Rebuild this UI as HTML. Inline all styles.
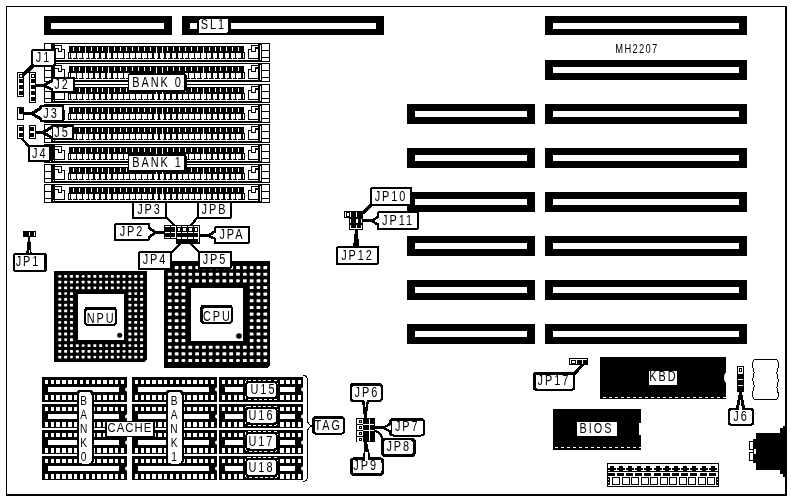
<!DOCTYPE html>
<html lang="en">
<head>
<meta charset="utf-8">
<title>MH2207 motherboard layout</title>
<style>
html,body{margin:0;padding:0;background:#fff;}
body{width:791px;height:501px;overflow:hidden;}
svg{display:block;font-family:"Liberation Sans",sans-serif;filter:grayscale(1);}
svg rect, svg path, svg line{shape-rendering:crispEdges;}
svg rect.d{shape-rendering:auto;}
</style>
</head>
<body>
<svg width="791" height="501" viewBox="0 0 791 501">
<rect x="0" y="0" width="791" height="501" fill="#fff"/>
<rect x="6" y="6" width="781" height="1" fill="#000"/>
<rect x="6" y="6" width="1" height="489" fill="#000"/>
<rect x="785" y="6" width="2" height="489" fill="#000"/>
<rect x="6" y="494" width="781" height="2" fill="#000"/>
<rect x="44" y="16" width="128" height="19" fill="#000"/>
<rect x="51" y="23" width="113" height="6" fill="#fff"/>
<rect x="182" y="16" width="202" height="19" fill="#000"/>
<rect x="190" y="23" width="186" height="6" fill="#fff"/>
<rect x="545" y="16" width="202" height="19" fill="#000"/>
<rect x="553" y="23" width="186" height="6" fill="#fff"/>
<rect x="545" y="60" width="202" height="20" fill="#000"/>
<rect x="553" y="67" width="186" height="6" fill="#fff"/>
<rect x="545" y="104" width="202" height="20" fill="#000"/>
<rect x="553" y="111" width="186" height="6" fill="#fff"/>
<rect x="545" y="148" width="202" height="20" fill="#000"/>
<rect x="553" y="155" width="186" height="6" fill="#fff"/>
<rect x="545" y="192" width="202" height="20" fill="#000"/>
<rect x="553" y="199" width="186" height="6" fill="#fff"/>
<rect x="545" y="236" width="202" height="20" fill="#000"/>
<rect x="553" y="243" width="186" height="6" fill="#fff"/>
<rect x="545" y="280" width="202" height="20" fill="#000"/>
<rect x="553" y="287" width="186" height="6" fill="#fff"/>
<rect x="545" y="324" width="202" height="20" fill="#000"/>
<rect x="553" y="331" width="186" height="6" fill="#fff"/>
<rect x="407" y="104" width="128" height="20" fill="#000"/>
<rect x="415" y="111" width="112" height="6" fill="#fff"/>
<rect x="407" y="148" width="128" height="20" fill="#000"/>
<rect x="415" y="155" width="112" height="6" fill="#fff"/>
<rect x="407" y="192" width="128" height="20" fill="#000"/>
<rect x="415" y="199" width="112" height="6" fill="#fff"/>
<rect x="407" y="236" width="128" height="20" fill="#000"/>
<rect x="415" y="243" width="112" height="6" fill="#fff"/>
<rect x="407" y="280" width="128" height="20" fill="#000"/>
<rect x="415" y="287" width="112" height="6" fill="#fff"/>
<rect x="407" y="324" width="128" height="20" fill="#000"/>
<rect x="415" y="331" width="112" height="6" fill="#fff"/>
<rect x="44" y="43" width="226" height="19" fill="#000"/>
<rect x="45" y="44" width="224" height="17" fill="#fff"/>
<rect x="54" y="60" width="208" height="1" fill="#000"/>
<rect x="44" y="50" width="8" height="1" fill="#000"/>
<rect x="44" y="57" width="8" height="1" fill="#000"/>
<rect x="51" y="43" width="4" height="19" fill="#000"/>
<rect x="53" y="59" width="1" height="1" fill="#fff"/>
<path d="M54.5,45.5H61.5V49.5H64.5V58.5H54.5" fill="#fff" stroke="#000" stroke-width="1"/>
<path d="M54.5,48.5H58.5V51.5H61.5V49.5" fill="none" stroke="#000" stroke-width="1"/>
<path d="M258.5,45.5H251.5V49.5H248.5V58.5H258.5" fill="#fff" stroke="#000" stroke-width="1"/>
<path d="M258.5,48.5H255.5V51.5H251.5V49.5" fill="none" stroke="#000" stroke-width="1"/>
<rect x="255" y="47" width="3" height="2" fill="#000"/>
<rect x="258" y="43" width="4" height="18" fill="#000"/>
<rect x="260" y="45" width="1" height="15" fill="#fff"/>
<rect x="262" y="50" width="8" height="1" fill="#000"/>
<rect x="262" y="57" width="8" height="1" fill="#000"/>
<rect x="69" y="46" width="175" height="6" fill="#000"/>
<rect x="68" y="52" width="177" height="7" fill="#000"/>
<rect x="69" y="53" width="1" height="5" fill="#fff"/>
<rect x="243" y="53" width="1" height="5" fill="#fff"/>
<rect x="71" y="53" width="5" height="5" fill="#fff"/>
<rect x="73" y="47" width="1" height="4" fill="#fff"/>
<rect x="72" y="58" width="1" height="0.5" fill="#fff"/>
<rect x="77" y="53" width="5" height="5" fill="#fff"/>
<rect x="79" y="47" width="1" height="4" fill="#fff"/>
<rect x="78" y="58" width="1" height="0.5" fill="#fff"/>
<rect x="83" y="53" width="5" height="5" fill="#fff"/>
<rect x="85" y="47" width="1" height="13" fill="#fff"/>
<rect x="84" y="58" width="1" height="0.5" fill="#fff"/>
<rect x="89" y="53" width="4" height="5" fill="#fff"/>
<rect x="91" y="47" width="1" height="4" fill="#fff"/>
<rect x="90" y="58" width="1" height="0.5" fill="#fff"/>
<rect x="95" y="53" width="4" height="5" fill="#fff"/>
<rect x="97" y="47" width="1" height="4" fill="#fff"/>
<rect x="96" y="58" width="1" height="0.5" fill="#fff"/>
<rect x="101" y="53" width="4" height="5" fill="#fff"/>
<rect x="102" y="47" width="1" height="4" fill="#fff"/>
<rect x="102" y="58" width="1" height="0.5" fill="#fff"/>
<rect x="107" y="53" width="4" height="5" fill="#fff"/>
<rect x="108" y="47" width="1" height="13" fill="#fff"/>
<rect x="108" y="58" width="1" height="0.5" fill="#fff"/>
<rect x="113" y="53" width="4" height="5" fill="#fff"/>
<rect x="114" y="47" width="1" height="4" fill="#fff"/>
<rect x="114" y="58" width="1" height="0.5" fill="#fff"/>
<rect x="118" y="53" width="5" height="5" fill="#fff"/>
<rect x="120" y="47" width="1" height="4" fill="#fff"/>
<rect x="119" y="58" width="1" height="0.5" fill="#fff"/>
<rect x="124" y="53" width="5" height="5" fill="#fff"/>
<rect x="126" y="47" width="1" height="4" fill="#fff"/>
<rect x="125" y="58" width="1" height="0.5" fill="#fff"/>
<rect x="130" y="53" width="5" height="5" fill="#fff"/>
<rect x="132" y="47" width="1" height="4" fill="#fff"/>
<rect x="131" y="58" width="1" height="0.5" fill="#fff"/>
<rect x="136" y="53" width="5" height="5" fill="#fff"/>
<rect x="138" y="47" width="1" height="4" fill="#fff"/>
<rect x="137" y="58" width="1" height="0.5" fill="#fff"/>
<rect x="142" y="53" width="5" height="5" fill="#fff"/>
<rect x="144" y="47" width="1" height="4" fill="#fff"/>
<rect x="143" y="58" width="1" height="0.5" fill="#fff"/>
<rect x="148" y="53" width="4" height="5" fill="#fff"/>
<rect x="150" y="47" width="1" height="4" fill="#fff"/>
<rect x="149" y="58" width="1" height="0.5" fill="#fff"/>
<rect x="154" y="53" width="4" height="5" fill="#fff"/>
<rect x="156" y="47" width="1" height="13" fill="#fff"/>
<rect x="155" y="58" width="1" height="0.5" fill="#fff"/>
<rect x="160" y="53" width="4" height="5" fill="#fff"/>
<rect x="162" y="47" width="1" height="13" fill="#fff"/>
<rect x="161" y="58" width="1" height="0.5" fill="#fff"/>
<rect x="166" y="53" width="4" height="5" fill="#fff"/>
<rect x="167" y="47" width="1" height="4" fill="#fff"/>
<rect x="167" y="58" width="1" height="0.5" fill="#fff"/>
<rect x="172" y="53" width="4" height="5" fill="#fff"/>
<rect x="173" y="47" width="1" height="4" fill="#fff"/>
<rect x="173" y="58" width="1" height="0.5" fill="#fff"/>
<rect x="178" y="53" width="4" height="5" fill="#fff"/>
<rect x="179" y="47" width="1" height="4" fill="#fff"/>
<rect x="179" y="58" width="1" height="0.5" fill="#fff"/>
<rect x="183" y="53" width="5" height="5" fill="#fff"/>
<rect x="185" y="47" width="1" height="4" fill="#fff"/>
<rect x="184" y="58" width="1" height="0.5" fill="#fff"/>
<rect x="189" y="53" width="5" height="5" fill="#fff"/>
<rect x="191" y="47" width="1" height="4" fill="#fff"/>
<rect x="190" y="58" width="1" height="0.5" fill="#fff"/>
<rect x="195" y="53" width="5" height="5" fill="#fff"/>
<rect x="197" y="47" width="1" height="4" fill="#fff"/>
<rect x="196" y="58" width="1" height="0.5" fill="#fff"/>
<rect x="201" y="53" width="5" height="5" fill="#fff"/>
<rect x="203" y="47" width="1" height="13" fill="#fff"/>
<rect x="202" y="58" width="1" height="0.5" fill="#fff"/>
<rect x="207" y="53" width="4" height="5" fill="#fff"/>
<rect x="209" y="47" width="1" height="4" fill="#fff"/>
<rect x="208" y="58" width="1" height="0.5" fill="#fff"/>
<rect x="213" y="53" width="4" height="5" fill="#fff"/>
<rect x="215" y="47" width="1" height="4" fill="#fff"/>
<rect x="214" y="58" width="1" height="0.5" fill="#fff"/>
<rect x="219" y="53" width="4" height="5" fill="#fff"/>
<rect x="220" y="47" width="1" height="4" fill="#fff"/>
<rect x="220" y="58" width="1" height="0.5" fill="#fff"/>
<rect x="225" y="53" width="4" height="5" fill="#fff"/>
<rect x="226" y="47" width="1" height="4" fill="#fff"/>
<rect x="226" y="58" width="1" height="0.5" fill="#fff"/>
<rect x="231" y="53" width="4" height="5" fill="#fff"/>
<rect x="232" y="47" width="1" height="4" fill="#fff"/>
<rect x="232" y="58" width="1" height="0.5" fill="#fff"/>
<rect x="236" y="53" width="5" height="5" fill="#fff"/>
<rect x="238" y="47" width="1" height="4" fill="#fff"/>
<rect x="237" y="58" width="1" height="0.5" fill="#fff"/>
<rect x="44" y="63" width="226" height="19" fill="#000"/>
<rect x="45" y="64" width="224" height="17" fill="#fff"/>
<rect x="54" y="80" width="208" height="1" fill="#000"/>
<rect x="44" y="70" width="8" height="1" fill="#000"/>
<rect x="44" y="77" width="8" height="1" fill="#000"/>
<rect x="51" y="63" width="4" height="19" fill="#000"/>
<rect x="53" y="79" width="1" height="1" fill="#fff"/>
<path d="M54.5,65.5H61.5V69.5H64.5V78.5H54.5" fill="#fff" stroke="#000" stroke-width="1"/>
<path d="M54.5,68.5H58.5V71.5H61.5V69.5" fill="none" stroke="#000" stroke-width="1"/>
<path d="M258.5,65.5H251.5V69.5H248.5V78.5H258.5" fill="#fff" stroke="#000" stroke-width="1"/>
<path d="M258.5,68.5H255.5V71.5H251.5V69.5" fill="none" stroke="#000" stroke-width="1"/>
<rect x="255" y="67" width="3" height="2" fill="#000"/>
<rect x="258" y="63" width="4" height="18" fill="#000"/>
<rect x="260" y="65" width="1" height="15" fill="#fff"/>
<rect x="262" y="70" width="8" height="1" fill="#000"/>
<rect x="262" y="77" width="8" height="1" fill="#000"/>
<rect x="69" y="66" width="175" height="6" fill="#000"/>
<rect x="68" y="72" width="177" height="7" fill="#000"/>
<rect x="69" y="73" width="1" height="5" fill="#fff"/>
<rect x="243" y="73" width="1" height="5" fill="#fff"/>
<rect x="71" y="73" width="5" height="5" fill="#fff"/>
<rect x="73" y="67" width="1" height="4" fill="#fff"/>
<rect x="72" y="78" width="1" height="0.5" fill="#fff"/>
<rect x="77" y="73" width="5" height="5" fill="#fff"/>
<rect x="79" y="67" width="1" height="4" fill="#fff"/>
<rect x="78" y="78" width="1" height="0.5" fill="#fff"/>
<rect x="83" y="73" width="5" height="5" fill="#fff"/>
<rect x="85" y="67" width="1" height="13" fill="#fff"/>
<rect x="84" y="78" width="1" height="0.5" fill="#fff"/>
<rect x="89" y="73" width="4" height="5" fill="#fff"/>
<rect x="91" y="67" width="1" height="4" fill="#fff"/>
<rect x="90" y="78" width="1" height="0.5" fill="#fff"/>
<rect x="95" y="73" width="4" height="5" fill="#fff"/>
<rect x="97" y="67" width="1" height="4" fill="#fff"/>
<rect x="96" y="78" width="1" height="0.5" fill="#fff"/>
<rect x="101" y="73" width="4" height="5" fill="#fff"/>
<rect x="102" y="67" width="1" height="4" fill="#fff"/>
<rect x="102" y="78" width="1" height="0.5" fill="#fff"/>
<rect x="107" y="73" width="4" height="5" fill="#fff"/>
<rect x="108" y="67" width="1" height="13" fill="#fff"/>
<rect x="108" y="78" width="1" height="0.5" fill="#fff"/>
<rect x="113" y="73" width="4" height="5" fill="#fff"/>
<rect x="114" y="67" width="1" height="4" fill="#fff"/>
<rect x="114" y="78" width="1" height="0.5" fill="#fff"/>
<rect x="118" y="73" width="5" height="5" fill="#fff"/>
<rect x="120" y="67" width="1" height="4" fill="#fff"/>
<rect x="119" y="78" width="1" height="0.5" fill="#fff"/>
<rect x="124" y="73" width="5" height="5" fill="#fff"/>
<rect x="126" y="67" width="1" height="4" fill="#fff"/>
<rect x="125" y="78" width="1" height="0.5" fill="#fff"/>
<rect x="130" y="73" width="5" height="5" fill="#fff"/>
<rect x="132" y="67" width="1" height="4" fill="#fff"/>
<rect x="131" y="78" width="1" height="0.5" fill="#fff"/>
<rect x="136" y="73" width="5" height="5" fill="#fff"/>
<rect x="138" y="67" width="1" height="4" fill="#fff"/>
<rect x="137" y="78" width="1" height="0.5" fill="#fff"/>
<rect x="142" y="73" width="5" height="5" fill="#fff"/>
<rect x="144" y="67" width="1" height="4" fill="#fff"/>
<rect x="143" y="78" width="1" height="0.5" fill="#fff"/>
<rect x="148" y="73" width="4" height="5" fill="#fff"/>
<rect x="150" y="67" width="1" height="4" fill="#fff"/>
<rect x="149" y="78" width="1" height="0.5" fill="#fff"/>
<rect x="154" y="73" width="4" height="5" fill="#fff"/>
<rect x="156" y="67" width="1" height="13" fill="#fff"/>
<rect x="155" y="78" width="1" height="0.5" fill="#fff"/>
<rect x="160" y="73" width="4" height="5" fill="#fff"/>
<rect x="162" y="67" width="1" height="13" fill="#fff"/>
<rect x="161" y="78" width="1" height="0.5" fill="#fff"/>
<rect x="166" y="73" width="4" height="5" fill="#fff"/>
<rect x="167" y="67" width="1" height="4" fill="#fff"/>
<rect x="167" y="78" width="1" height="0.5" fill="#fff"/>
<rect x="172" y="73" width="4" height="5" fill="#fff"/>
<rect x="173" y="67" width="1" height="4" fill="#fff"/>
<rect x="173" y="78" width="1" height="0.5" fill="#fff"/>
<rect x="178" y="73" width="4" height="5" fill="#fff"/>
<rect x="179" y="67" width="1" height="4" fill="#fff"/>
<rect x="179" y="78" width="1" height="0.5" fill="#fff"/>
<rect x="183" y="73" width="5" height="5" fill="#fff"/>
<rect x="185" y="67" width="1" height="4" fill="#fff"/>
<rect x="184" y="78" width="1" height="0.5" fill="#fff"/>
<rect x="189" y="73" width="5" height="5" fill="#fff"/>
<rect x="191" y="67" width="1" height="4" fill="#fff"/>
<rect x="190" y="78" width="1" height="0.5" fill="#fff"/>
<rect x="195" y="73" width="5" height="5" fill="#fff"/>
<rect x="197" y="67" width="1" height="4" fill="#fff"/>
<rect x="196" y="78" width="1" height="0.5" fill="#fff"/>
<rect x="201" y="73" width="5" height="5" fill="#fff"/>
<rect x="203" y="67" width="1" height="13" fill="#fff"/>
<rect x="202" y="78" width="1" height="0.5" fill="#fff"/>
<rect x="207" y="73" width="4" height="5" fill="#fff"/>
<rect x="209" y="67" width="1" height="4" fill="#fff"/>
<rect x="208" y="78" width="1" height="0.5" fill="#fff"/>
<rect x="213" y="73" width="4" height="5" fill="#fff"/>
<rect x="215" y="67" width="1" height="4" fill="#fff"/>
<rect x="214" y="78" width="1" height="0.5" fill="#fff"/>
<rect x="219" y="73" width="4" height="5" fill="#fff"/>
<rect x="220" y="67" width="1" height="4" fill="#fff"/>
<rect x="220" y="78" width="1" height="0.5" fill="#fff"/>
<rect x="225" y="73" width="4" height="5" fill="#fff"/>
<rect x="226" y="67" width="1" height="4" fill="#fff"/>
<rect x="226" y="78" width="1" height="0.5" fill="#fff"/>
<rect x="231" y="73" width="4" height="5" fill="#fff"/>
<rect x="232" y="67" width="1" height="4" fill="#fff"/>
<rect x="232" y="78" width="1" height="0.5" fill="#fff"/>
<rect x="236" y="73" width="5" height="5" fill="#fff"/>
<rect x="238" y="67" width="1" height="4" fill="#fff"/>
<rect x="237" y="78" width="1" height="0.5" fill="#fff"/>
<rect x="44" y="84" width="226" height="19" fill="#000"/>
<rect x="45" y="85" width="224" height="17" fill="#fff"/>
<rect x="54" y="101" width="208" height="1" fill="#000"/>
<rect x="44" y="91" width="8" height="1" fill="#000"/>
<rect x="44" y="98" width="8" height="1" fill="#000"/>
<rect x="51" y="84" width="4" height="19" fill="#000"/>
<rect x="53" y="100" width="1" height="1" fill="#fff"/>
<path d="M54.5,86.5H61.5V90.5H64.5V99.5H54.5" fill="#fff" stroke="#000" stroke-width="1"/>
<path d="M54.5,89.5H58.5V92.5H61.5V90.5" fill="none" stroke="#000" stroke-width="1"/>
<path d="M258.5,86.5H251.5V90.5H248.5V99.5H258.5" fill="#fff" stroke="#000" stroke-width="1"/>
<path d="M258.5,89.5H255.5V92.5H251.5V90.5" fill="none" stroke="#000" stroke-width="1"/>
<rect x="255" y="88" width="3" height="2" fill="#000"/>
<rect x="258" y="84" width="4" height="18" fill="#000"/>
<rect x="260" y="86" width="1" height="15" fill="#fff"/>
<rect x="262" y="91" width="8" height="1" fill="#000"/>
<rect x="262" y="98" width="8" height="1" fill="#000"/>
<rect x="69" y="87" width="175" height="6" fill="#000"/>
<rect x="68" y="93" width="177" height="7" fill="#000"/>
<rect x="69" y="94" width="1" height="5" fill="#fff"/>
<rect x="243" y="94" width="1" height="5" fill="#fff"/>
<rect x="71" y="94" width="5" height="5" fill="#fff"/>
<rect x="73" y="88" width="1" height="4" fill="#fff"/>
<rect x="72" y="99" width="1" height="0.5" fill="#fff"/>
<rect x="77" y="94" width="5" height="5" fill="#fff"/>
<rect x="79" y="88" width="1" height="4" fill="#fff"/>
<rect x="78" y="99" width="1" height="0.5" fill="#fff"/>
<rect x="83" y="94" width="5" height="5" fill="#fff"/>
<rect x="85" y="88" width="1" height="13" fill="#fff"/>
<rect x="84" y="99" width="1" height="0.5" fill="#fff"/>
<rect x="89" y="94" width="4" height="5" fill="#fff"/>
<rect x="91" y="88" width="1" height="4" fill="#fff"/>
<rect x="90" y="99" width="1" height="0.5" fill="#fff"/>
<rect x="95" y="94" width="4" height="5" fill="#fff"/>
<rect x="97" y="88" width="1" height="4" fill="#fff"/>
<rect x="96" y="99" width="1" height="0.5" fill="#fff"/>
<rect x="101" y="94" width="4" height="5" fill="#fff"/>
<rect x="102" y="88" width="1" height="4" fill="#fff"/>
<rect x="102" y="99" width="1" height="0.5" fill="#fff"/>
<rect x="107" y="94" width="4" height="5" fill="#fff"/>
<rect x="108" y="88" width="1" height="13" fill="#fff"/>
<rect x="108" y="99" width="1" height="0.5" fill="#fff"/>
<rect x="113" y="94" width="4" height="5" fill="#fff"/>
<rect x="114" y="88" width="1" height="4" fill="#fff"/>
<rect x="114" y="99" width="1" height="0.5" fill="#fff"/>
<rect x="118" y="94" width="5" height="5" fill="#fff"/>
<rect x="120" y="88" width="1" height="4" fill="#fff"/>
<rect x="119" y="99" width="1" height="0.5" fill="#fff"/>
<rect x="124" y="94" width="5" height="5" fill="#fff"/>
<rect x="126" y="88" width="1" height="4" fill="#fff"/>
<rect x="125" y="99" width="1" height="0.5" fill="#fff"/>
<rect x="130" y="94" width="5" height="5" fill="#fff"/>
<rect x="132" y="88" width="1" height="4" fill="#fff"/>
<rect x="131" y="99" width="1" height="0.5" fill="#fff"/>
<rect x="136" y="94" width="5" height="5" fill="#fff"/>
<rect x="138" y="88" width="1" height="4" fill="#fff"/>
<rect x="137" y="99" width="1" height="0.5" fill="#fff"/>
<rect x="142" y="94" width="5" height="5" fill="#fff"/>
<rect x="144" y="88" width="1" height="4" fill="#fff"/>
<rect x="143" y="99" width="1" height="0.5" fill="#fff"/>
<rect x="148" y="94" width="4" height="5" fill="#fff"/>
<rect x="150" y="88" width="1" height="4" fill="#fff"/>
<rect x="149" y="99" width="1" height="0.5" fill="#fff"/>
<rect x="154" y="94" width="4" height="5" fill="#fff"/>
<rect x="156" y="88" width="1" height="13" fill="#fff"/>
<rect x="155" y="99" width="1" height="0.5" fill="#fff"/>
<rect x="160" y="94" width="4" height="5" fill="#fff"/>
<rect x="162" y="88" width="1" height="13" fill="#fff"/>
<rect x="161" y="99" width="1" height="0.5" fill="#fff"/>
<rect x="166" y="94" width="4" height="5" fill="#fff"/>
<rect x="167" y="88" width="1" height="4" fill="#fff"/>
<rect x="167" y="99" width="1" height="0.5" fill="#fff"/>
<rect x="172" y="94" width="4" height="5" fill="#fff"/>
<rect x="173" y="88" width="1" height="4" fill="#fff"/>
<rect x="173" y="99" width="1" height="0.5" fill="#fff"/>
<rect x="178" y="94" width="4" height="5" fill="#fff"/>
<rect x="179" y="88" width="1" height="4" fill="#fff"/>
<rect x="179" y="99" width="1" height="0.5" fill="#fff"/>
<rect x="183" y="94" width="5" height="5" fill="#fff"/>
<rect x="185" y="88" width="1" height="4" fill="#fff"/>
<rect x="184" y="99" width="1" height="0.5" fill="#fff"/>
<rect x="189" y="94" width="5" height="5" fill="#fff"/>
<rect x="191" y="88" width="1" height="4" fill="#fff"/>
<rect x="190" y="99" width="1" height="0.5" fill="#fff"/>
<rect x="195" y="94" width="5" height="5" fill="#fff"/>
<rect x="197" y="88" width="1" height="4" fill="#fff"/>
<rect x="196" y="99" width="1" height="0.5" fill="#fff"/>
<rect x="201" y="94" width="5" height="5" fill="#fff"/>
<rect x="203" y="88" width="1" height="13" fill="#fff"/>
<rect x="202" y="99" width="1" height="0.5" fill="#fff"/>
<rect x="207" y="94" width="4" height="5" fill="#fff"/>
<rect x="209" y="88" width="1" height="4" fill="#fff"/>
<rect x="208" y="99" width="1" height="0.5" fill="#fff"/>
<rect x="213" y="94" width="4" height="5" fill="#fff"/>
<rect x="215" y="88" width="1" height="4" fill="#fff"/>
<rect x="214" y="99" width="1" height="0.5" fill="#fff"/>
<rect x="219" y="94" width="4" height="5" fill="#fff"/>
<rect x="220" y="88" width="1" height="4" fill="#fff"/>
<rect x="220" y="99" width="1" height="0.5" fill="#fff"/>
<rect x="225" y="94" width="4" height="5" fill="#fff"/>
<rect x="226" y="88" width="1" height="4" fill="#fff"/>
<rect x="226" y="99" width="1" height="0.5" fill="#fff"/>
<rect x="231" y="94" width="4" height="5" fill="#fff"/>
<rect x="232" y="88" width="1" height="4" fill="#fff"/>
<rect x="232" y="99" width="1" height="0.5" fill="#fff"/>
<rect x="236" y="94" width="5" height="5" fill="#fff"/>
<rect x="238" y="88" width="1" height="4" fill="#fff"/>
<rect x="237" y="99" width="1" height="0.5" fill="#fff"/>
<rect x="44" y="104" width="226" height="19" fill="#000"/>
<rect x="45" y="105" width="224" height="17" fill="#fff"/>
<rect x="54" y="121" width="208" height="1" fill="#000"/>
<rect x="44" y="111" width="8" height="1" fill="#000"/>
<rect x="44" y="118" width="8" height="1" fill="#000"/>
<rect x="51" y="104" width="4" height="19" fill="#000"/>
<rect x="53" y="120" width="1" height="1" fill="#fff"/>
<path d="M54.5,106.5H61.5V110.5H64.5V119.5H54.5" fill="#fff" stroke="#000" stroke-width="1"/>
<path d="M54.5,109.5H58.5V112.5H61.5V110.5" fill="none" stroke="#000" stroke-width="1"/>
<path d="M258.5,106.5H251.5V110.5H248.5V119.5H258.5" fill="#fff" stroke="#000" stroke-width="1"/>
<path d="M258.5,109.5H255.5V112.5H251.5V110.5" fill="none" stroke="#000" stroke-width="1"/>
<rect x="255" y="108" width="3" height="2" fill="#000"/>
<rect x="258" y="104" width="4" height="18" fill="#000"/>
<rect x="260" y="106" width="1" height="15" fill="#fff"/>
<rect x="262" y="111" width="8" height="1" fill="#000"/>
<rect x="262" y="118" width="8" height="1" fill="#000"/>
<rect x="69" y="107" width="175" height="6" fill="#000"/>
<rect x="68" y="113" width="177" height="7" fill="#000"/>
<rect x="69" y="114" width="1" height="5" fill="#fff"/>
<rect x="243" y="114" width="1" height="5" fill="#fff"/>
<rect x="71" y="114" width="5" height="5" fill="#fff"/>
<rect x="73" y="108" width="1" height="4" fill="#fff"/>
<rect x="72" y="119" width="1" height="0.5" fill="#fff"/>
<rect x="77" y="114" width="5" height="5" fill="#fff"/>
<rect x="79" y="108" width="1" height="4" fill="#fff"/>
<rect x="78" y="119" width="1" height="0.5" fill="#fff"/>
<rect x="83" y="114" width="5" height="5" fill="#fff"/>
<rect x="85" y="108" width="1" height="13" fill="#fff"/>
<rect x="84" y="119" width="1" height="0.5" fill="#fff"/>
<rect x="89" y="114" width="4" height="5" fill="#fff"/>
<rect x="91" y="108" width="1" height="4" fill="#fff"/>
<rect x="90" y="119" width="1" height="0.5" fill="#fff"/>
<rect x="95" y="114" width="4" height="5" fill="#fff"/>
<rect x="97" y="108" width="1" height="4" fill="#fff"/>
<rect x="96" y="119" width="1" height="0.5" fill="#fff"/>
<rect x="101" y="114" width="4" height="5" fill="#fff"/>
<rect x="102" y="108" width="1" height="4" fill="#fff"/>
<rect x="102" y="119" width="1" height="0.5" fill="#fff"/>
<rect x="107" y="114" width="4" height="5" fill="#fff"/>
<rect x="108" y="108" width="1" height="13" fill="#fff"/>
<rect x="108" y="119" width="1" height="0.5" fill="#fff"/>
<rect x="113" y="114" width="4" height="5" fill="#fff"/>
<rect x="114" y="108" width="1" height="4" fill="#fff"/>
<rect x="114" y="119" width="1" height="0.5" fill="#fff"/>
<rect x="118" y="114" width="5" height="5" fill="#fff"/>
<rect x="120" y="108" width="1" height="4" fill="#fff"/>
<rect x="119" y="119" width="1" height="0.5" fill="#fff"/>
<rect x="124" y="114" width="5" height="5" fill="#fff"/>
<rect x="126" y="108" width="1" height="4" fill="#fff"/>
<rect x="125" y="119" width="1" height="0.5" fill="#fff"/>
<rect x="130" y="114" width="5" height="5" fill="#fff"/>
<rect x="132" y="108" width="1" height="4" fill="#fff"/>
<rect x="131" y="119" width="1" height="0.5" fill="#fff"/>
<rect x="136" y="114" width="5" height="5" fill="#fff"/>
<rect x="138" y="108" width="1" height="4" fill="#fff"/>
<rect x="137" y="119" width="1" height="0.5" fill="#fff"/>
<rect x="142" y="114" width="5" height="5" fill="#fff"/>
<rect x="144" y="108" width="1" height="4" fill="#fff"/>
<rect x="143" y="119" width="1" height="0.5" fill="#fff"/>
<rect x="148" y="114" width="4" height="5" fill="#fff"/>
<rect x="150" y="108" width="1" height="4" fill="#fff"/>
<rect x="149" y="119" width="1" height="0.5" fill="#fff"/>
<rect x="154" y="114" width="4" height="5" fill="#fff"/>
<rect x="156" y="108" width="1" height="13" fill="#fff"/>
<rect x="155" y="119" width="1" height="0.5" fill="#fff"/>
<rect x="160" y="114" width="4" height="5" fill="#fff"/>
<rect x="162" y="108" width="1" height="13" fill="#fff"/>
<rect x="161" y="119" width="1" height="0.5" fill="#fff"/>
<rect x="166" y="114" width="4" height="5" fill="#fff"/>
<rect x="167" y="108" width="1" height="4" fill="#fff"/>
<rect x="167" y="119" width="1" height="0.5" fill="#fff"/>
<rect x="172" y="114" width="4" height="5" fill="#fff"/>
<rect x="173" y="108" width="1" height="4" fill="#fff"/>
<rect x="173" y="119" width="1" height="0.5" fill="#fff"/>
<rect x="178" y="114" width="4" height="5" fill="#fff"/>
<rect x="179" y="108" width="1" height="4" fill="#fff"/>
<rect x="179" y="119" width="1" height="0.5" fill="#fff"/>
<rect x="183" y="114" width="5" height="5" fill="#fff"/>
<rect x="185" y="108" width="1" height="4" fill="#fff"/>
<rect x="184" y="119" width="1" height="0.5" fill="#fff"/>
<rect x="189" y="114" width="5" height="5" fill="#fff"/>
<rect x="191" y="108" width="1" height="4" fill="#fff"/>
<rect x="190" y="119" width="1" height="0.5" fill="#fff"/>
<rect x="195" y="114" width="5" height="5" fill="#fff"/>
<rect x="197" y="108" width="1" height="4" fill="#fff"/>
<rect x="196" y="119" width="1" height="0.5" fill="#fff"/>
<rect x="201" y="114" width="5" height="5" fill="#fff"/>
<rect x="203" y="108" width="1" height="13" fill="#fff"/>
<rect x="202" y="119" width="1" height="0.5" fill="#fff"/>
<rect x="207" y="114" width="4" height="5" fill="#fff"/>
<rect x="209" y="108" width="1" height="4" fill="#fff"/>
<rect x="208" y="119" width="1" height="0.5" fill="#fff"/>
<rect x="213" y="114" width="4" height="5" fill="#fff"/>
<rect x="215" y="108" width="1" height="4" fill="#fff"/>
<rect x="214" y="119" width="1" height="0.5" fill="#fff"/>
<rect x="219" y="114" width="4" height="5" fill="#fff"/>
<rect x="220" y="108" width="1" height="4" fill="#fff"/>
<rect x="220" y="119" width="1" height="0.5" fill="#fff"/>
<rect x="225" y="114" width="4" height="5" fill="#fff"/>
<rect x="226" y="108" width="1" height="4" fill="#fff"/>
<rect x="226" y="119" width="1" height="0.5" fill="#fff"/>
<rect x="231" y="114" width="4" height="5" fill="#fff"/>
<rect x="232" y="108" width="1" height="4" fill="#fff"/>
<rect x="232" y="119" width="1" height="0.5" fill="#fff"/>
<rect x="236" y="114" width="5" height="5" fill="#fff"/>
<rect x="238" y="108" width="1" height="4" fill="#fff"/>
<rect x="237" y="119" width="1" height="0.5" fill="#fff"/>
<rect x="44" y="124" width="226" height="19" fill="#000"/>
<rect x="45" y="125" width="224" height="17" fill="#fff"/>
<rect x="54" y="141" width="208" height="1" fill="#000"/>
<rect x="44" y="131" width="8" height="1" fill="#000"/>
<rect x="44" y="138" width="8" height="1" fill="#000"/>
<rect x="51" y="124" width="4" height="19" fill="#000"/>
<rect x="53" y="140" width="1" height="1" fill="#fff"/>
<path d="M54.5,126.5H61.5V130.5H64.5V139.5H54.5" fill="#fff" stroke="#000" stroke-width="1"/>
<path d="M54.5,129.5H58.5V132.5H61.5V130.5" fill="none" stroke="#000" stroke-width="1"/>
<path d="M258.5,126.5H251.5V130.5H248.5V139.5H258.5" fill="#fff" stroke="#000" stroke-width="1"/>
<path d="M258.5,129.5H255.5V132.5H251.5V130.5" fill="none" stroke="#000" stroke-width="1"/>
<rect x="255" y="128" width="3" height="2" fill="#000"/>
<rect x="258" y="124" width="4" height="18" fill="#000"/>
<rect x="260" y="126" width="1" height="15" fill="#fff"/>
<rect x="262" y="131" width="8" height="1" fill="#000"/>
<rect x="262" y="138" width="8" height="1" fill="#000"/>
<rect x="69" y="127" width="175" height="6" fill="#000"/>
<rect x="68" y="133" width="177" height="7" fill="#000"/>
<rect x="69" y="134" width="1" height="5" fill="#fff"/>
<rect x="243" y="134" width="1" height="5" fill="#fff"/>
<rect x="71" y="134" width="5" height="5" fill="#fff"/>
<rect x="73" y="128" width="1" height="4" fill="#fff"/>
<rect x="72" y="139" width="1" height="0.5" fill="#fff"/>
<rect x="77" y="134" width="5" height="5" fill="#fff"/>
<rect x="79" y="128" width="1" height="4" fill="#fff"/>
<rect x="78" y="139" width="1" height="0.5" fill="#fff"/>
<rect x="83" y="134" width="5" height="5" fill="#fff"/>
<rect x="85" y="128" width="1" height="13" fill="#fff"/>
<rect x="84" y="139" width="1" height="0.5" fill="#fff"/>
<rect x="89" y="134" width="4" height="5" fill="#fff"/>
<rect x="91" y="128" width="1" height="4" fill="#fff"/>
<rect x="90" y="139" width="1" height="0.5" fill="#fff"/>
<rect x="95" y="134" width="4" height="5" fill="#fff"/>
<rect x="97" y="128" width="1" height="4" fill="#fff"/>
<rect x="96" y="139" width="1" height="0.5" fill="#fff"/>
<rect x="101" y="134" width="4" height="5" fill="#fff"/>
<rect x="102" y="128" width="1" height="4" fill="#fff"/>
<rect x="102" y="139" width="1" height="0.5" fill="#fff"/>
<rect x="107" y="134" width="4" height="5" fill="#fff"/>
<rect x="108" y="128" width="1" height="13" fill="#fff"/>
<rect x="108" y="139" width="1" height="0.5" fill="#fff"/>
<rect x="113" y="134" width="4" height="5" fill="#fff"/>
<rect x="114" y="128" width="1" height="4" fill="#fff"/>
<rect x="114" y="139" width="1" height="0.5" fill="#fff"/>
<rect x="118" y="134" width="5" height="5" fill="#fff"/>
<rect x="120" y="128" width="1" height="4" fill="#fff"/>
<rect x="119" y="139" width="1" height="0.5" fill="#fff"/>
<rect x="124" y="134" width="5" height="5" fill="#fff"/>
<rect x="126" y="128" width="1" height="4" fill="#fff"/>
<rect x="125" y="139" width="1" height="0.5" fill="#fff"/>
<rect x="130" y="134" width="5" height="5" fill="#fff"/>
<rect x="132" y="128" width="1" height="4" fill="#fff"/>
<rect x="131" y="139" width="1" height="0.5" fill="#fff"/>
<rect x="136" y="134" width="5" height="5" fill="#fff"/>
<rect x="138" y="128" width="1" height="4" fill="#fff"/>
<rect x="137" y="139" width="1" height="0.5" fill="#fff"/>
<rect x="142" y="134" width="5" height="5" fill="#fff"/>
<rect x="144" y="128" width="1" height="4" fill="#fff"/>
<rect x="143" y="139" width="1" height="0.5" fill="#fff"/>
<rect x="148" y="134" width="4" height="5" fill="#fff"/>
<rect x="150" y="128" width="1" height="4" fill="#fff"/>
<rect x="149" y="139" width="1" height="0.5" fill="#fff"/>
<rect x="154" y="134" width="4" height="5" fill="#fff"/>
<rect x="156" y="128" width="1" height="13" fill="#fff"/>
<rect x="155" y="139" width="1" height="0.5" fill="#fff"/>
<rect x="160" y="134" width="4" height="5" fill="#fff"/>
<rect x="162" y="128" width="1" height="13" fill="#fff"/>
<rect x="161" y="139" width="1" height="0.5" fill="#fff"/>
<rect x="166" y="134" width="4" height="5" fill="#fff"/>
<rect x="167" y="128" width="1" height="4" fill="#fff"/>
<rect x="167" y="139" width="1" height="0.5" fill="#fff"/>
<rect x="172" y="134" width="4" height="5" fill="#fff"/>
<rect x="173" y="128" width="1" height="4" fill="#fff"/>
<rect x="173" y="139" width="1" height="0.5" fill="#fff"/>
<rect x="178" y="134" width="4" height="5" fill="#fff"/>
<rect x="179" y="128" width="1" height="4" fill="#fff"/>
<rect x="179" y="139" width="1" height="0.5" fill="#fff"/>
<rect x="183" y="134" width="5" height="5" fill="#fff"/>
<rect x="185" y="128" width="1" height="4" fill="#fff"/>
<rect x="184" y="139" width="1" height="0.5" fill="#fff"/>
<rect x="189" y="134" width="5" height="5" fill="#fff"/>
<rect x="191" y="128" width="1" height="4" fill="#fff"/>
<rect x="190" y="139" width="1" height="0.5" fill="#fff"/>
<rect x="195" y="134" width="5" height="5" fill="#fff"/>
<rect x="197" y="128" width="1" height="4" fill="#fff"/>
<rect x="196" y="139" width="1" height="0.5" fill="#fff"/>
<rect x="201" y="134" width="5" height="5" fill="#fff"/>
<rect x="203" y="128" width="1" height="13" fill="#fff"/>
<rect x="202" y="139" width="1" height="0.5" fill="#fff"/>
<rect x="207" y="134" width="4" height="5" fill="#fff"/>
<rect x="209" y="128" width="1" height="4" fill="#fff"/>
<rect x="208" y="139" width="1" height="0.5" fill="#fff"/>
<rect x="213" y="134" width="4" height="5" fill="#fff"/>
<rect x="215" y="128" width="1" height="4" fill="#fff"/>
<rect x="214" y="139" width="1" height="0.5" fill="#fff"/>
<rect x="219" y="134" width="4" height="5" fill="#fff"/>
<rect x="220" y="128" width="1" height="4" fill="#fff"/>
<rect x="220" y="139" width="1" height="0.5" fill="#fff"/>
<rect x="225" y="134" width="4" height="5" fill="#fff"/>
<rect x="226" y="128" width="1" height="4" fill="#fff"/>
<rect x="226" y="139" width="1" height="0.5" fill="#fff"/>
<rect x="231" y="134" width="4" height="5" fill="#fff"/>
<rect x="232" y="128" width="1" height="4" fill="#fff"/>
<rect x="232" y="139" width="1" height="0.5" fill="#fff"/>
<rect x="236" y="134" width="5" height="5" fill="#fff"/>
<rect x="238" y="128" width="1" height="4" fill="#fff"/>
<rect x="237" y="139" width="1" height="0.5" fill="#fff"/>
<rect x="44" y="144" width="226" height="19" fill="#000"/>
<rect x="45" y="145" width="224" height="17" fill="#fff"/>
<rect x="54" y="161" width="208" height="1" fill="#000"/>
<rect x="44" y="151" width="8" height="1" fill="#000"/>
<rect x="44" y="158" width="8" height="1" fill="#000"/>
<rect x="51" y="144" width="4" height="19" fill="#000"/>
<rect x="53" y="160" width="1" height="1" fill="#fff"/>
<path d="M54.5,146.5H61.5V150.5H64.5V159.5H54.5" fill="#fff" stroke="#000" stroke-width="1"/>
<path d="M54.5,149.5H58.5V152.5H61.5V150.5" fill="none" stroke="#000" stroke-width="1"/>
<path d="M258.5,146.5H251.5V150.5H248.5V159.5H258.5" fill="#fff" stroke="#000" stroke-width="1"/>
<path d="M258.5,149.5H255.5V152.5H251.5V150.5" fill="none" stroke="#000" stroke-width="1"/>
<rect x="255" y="148" width="3" height="2" fill="#000"/>
<rect x="258" y="144" width="4" height="18" fill="#000"/>
<rect x="260" y="146" width="1" height="15" fill="#fff"/>
<rect x="262" y="151" width="8" height="1" fill="#000"/>
<rect x="262" y="158" width="8" height="1" fill="#000"/>
<rect x="69" y="147" width="175" height="6" fill="#000"/>
<rect x="68" y="153" width="177" height="7" fill="#000"/>
<rect x="69" y="154" width="1" height="5" fill="#fff"/>
<rect x="243" y="154" width="1" height="5" fill="#fff"/>
<rect x="71" y="154" width="5" height="5" fill="#fff"/>
<rect x="73" y="148" width="1" height="4" fill="#fff"/>
<rect x="72" y="159" width="1" height="0.5" fill="#fff"/>
<rect x="77" y="154" width="5" height="5" fill="#fff"/>
<rect x="79" y="148" width="1" height="4" fill="#fff"/>
<rect x="78" y="159" width="1" height="0.5" fill="#fff"/>
<rect x="83" y="154" width="5" height="5" fill="#fff"/>
<rect x="85" y="148" width="1" height="13" fill="#fff"/>
<rect x="84" y="159" width="1" height="0.5" fill="#fff"/>
<rect x="89" y="154" width="4" height="5" fill="#fff"/>
<rect x="91" y="148" width="1" height="4" fill="#fff"/>
<rect x="90" y="159" width="1" height="0.5" fill="#fff"/>
<rect x="95" y="154" width="4" height="5" fill="#fff"/>
<rect x="97" y="148" width="1" height="4" fill="#fff"/>
<rect x="96" y="159" width="1" height="0.5" fill="#fff"/>
<rect x="101" y="154" width="4" height="5" fill="#fff"/>
<rect x="102" y="148" width="1" height="4" fill="#fff"/>
<rect x="102" y="159" width="1" height="0.5" fill="#fff"/>
<rect x="107" y="154" width="4" height="5" fill="#fff"/>
<rect x="108" y="148" width="1" height="13" fill="#fff"/>
<rect x="108" y="159" width="1" height="0.5" fill="#fff"/>
<rect x="113" y="154" width="4" height="5" fill="#fff"/>
<rect x="114" y="148" width="1" height="4" fill="#fff"/>
<rect x="114" y="159" width="1" height="0.5" fill="#fff"/>
<rect x="118" y="154" width="5" height="5" fill="#fff"/>
<rect x="120" y="148" width="1" height="4" fill="#fff"/>
<rect x="119" y="159" width="1" height="0.5" fill="#fff"/>
<rect x="124" y="154" width="5" height="5" fill="#fff"/>
<rect x="126" y="148" width="1" height="4" fill="#fff"/>
<rect x="125" y="159" width="1" height="0.5" fill="#fff"/>
<rect x="130" y="154" width="5" height="5" fill="#fff"/>
<rect x="132" y="148" width="1" height="4" fill="#fff"/>
<rect x="131" y="159" width="1" height="0.5" fill="#fff"/>
<rect x="136" y="154" width="5" height="5" fill="#fff"/>
<rect x="138" y="148" width="1" height="4" fill="#fff"/>
<rect x="137" y="159" width="1" height="0.5" fill="#fff"/>
<rect x="142" y="154" width="5" height="5" fill="#fff"/>
<rect x="144" y="148" width="1" height="4" fill="#fff"/>
<rect x="143" y="159" width="1" height="0.5" fill="#fff"/>
<rect x="148" y="154" width="4" height="5" fill="#fff"/>
<rect x="150" y="148" width="1" height="4" fill="#fff"/>
<rect x="149" y="159" width="1" height="0.5" fill="#fff"/>
<rect x="154" y="154" width="4" height="5" fill="#fff"/>
<rect x="156" y="148" width="1" height="13" fill="#fff"/>
<rect x="155" y="159" width="1" height="0.5" fill="#fff"/>
<rect x="160" y="154" width="4" height="5" fill="#fff"/>
<rect x="162" y="148" width="1" height="13" fill="#fff"/>
<rect x="161" y="159" width="1" height="0.5" fill="#fff"/>
<rect x="166" y="154" width="4" height="5" fill="#fff"/>
<rect x="167" y="148" width="1" height="4" fill="#fff"/>
<rect x="167" y="159" width="1" height="0.5" fill="#fff"/>
<rect x="172" y="154" width="4" height="5" fill="#fff"/>
<rect x="173" y="148" width="1" height="4" fill="#fff"/>
<rect x="173" y="159" width="1" height="0.5" fill="#fff"/>
<rect x="178" y="154" width="4" height="5" fill="#fff"/>
<rect x="179" y="148" width="1" height="4" fill="#fff"/>
<rect x="179" y="159" width="1" height="0.5" fill="#fff"/>
<rect x="183" y="154" width="5" height="5" fill="#fff"/>
<rect x="185" y="148" width="1" height="4" fill="#fff"/>
<rect x="184" y="159" width="1" height="0.5" fill="#fff"/>
<rect x="189" y="154" width="5" height="5" fill="#fff"/>
<rect x="191" y="148" width="1" height="4" fill="#fff"/>
<rect x="190" y="159" width="1" height="0.5" fill="#fff"/>
<rect x="195" y="154" width="5" height="5" fill="#fff"/>
<rect x="197" y="148" width="1" height="4" fill="#fff"/>
<rect x="196" y="159" width="1" height="0.5" fill="#fff"/>
<rect x="201" y="154" width="5" height="5" fill="#fff"/>
<rect x="203" y="148" width="1" height="13" fill="#fff"/>
<rect x="202" y="159" width="1" height="0.5" fill="#fff"/>
<rect x="207" y="154" width="4" height="5" fill="#fff"/>
<rect x="209" y="148" width="1" height="4" fill="#fff"/>
<rect x="208" y="159" width="1" height="0.5" fill="#fff"/>
<rect x="213" y="154" width="4" height="5" fill="#fff"/>
<rect x="215" y="148" width="1" height="4" fill="#fff"/>
<rect x="214" y="159" width="1" height="0.5" fill="#fff"/>
<rect x="219" y="154" width="4" height="5" fill="#fff"/>
<rect x="220" y="148" width="1" height="4" fill="#fff"/>
<rect x="220" y="159" width="1" height="0.5" fill="#fff"/>
<rect x="225" y="154" width="4" height="5" fill="#fff"/>
<rect x="226" y="148" width="1" height="4" fill="#fff"/>
<rect x="226" y="159" width="1" height="0.5" fill="#fff"/>
<rect x="231" y="154" width="4" height="5" fill="#fff"/>
<rect x="232" y="148" width="1" height="4" fill="#fff"/>
<rect x="232" y="159" width="1" height="0.5" fill="#fff"/>
<rect x="236" y="154" width="5" height="5" fill="#fff"/>
<rect x="238" y="148" width="1" height="4" fill="#fff"/>
<rect x="237" y="159" width="1" height="0.5" fill="#fff"/>
<rect x="44" y="164" width="226" height="19" fill="#000"/>
<rect x="45" y="165" width="224" height="17" fill="#fff"/>
<rect x="54" y="181" width="208" height="1" fill="#000"/>
<rect x="44" y="171" width="8" height="1" fill="#000"/>
<rect x="44" y="178" width="8" height="1" fill="#000"/>
<rect x="51" y="164" width="4" height="19" fill="#000"/>
<rect x="53" y="180" width="1" height="1" fill="#fff"/>
<path d="M54.5,166.5H61.5V170.5H64.5V179.5H54.5" fill="#fff" stroke="#000" stroke-width="1"/>
<path d="M54.5,169.5H58.5V172.5H61.5V170.5" fill="none" stroke="#000" stroke-width="1"/>
<path d="M258.5,166.5H251.5V170.5H248.5V179.5H258.5" fill="#fff" stroke="#000" stroke-width="1"/>
<path d="M258.5,169.5H255.5V172.5H251.5V170.5" fill="none" stroke="#000" stroke-width="1"/>
<rect x="255" y="168" width="3" height="2" fill="#000"/>
<rect x="258" y="164" width="4" height="18" fill="#000"/>
<rect x="260" y="166" width="1" height="15" fill="#fff"/>
<rect x="262" y="171" width="8" height="1" fill="#000"/>
<rect x="262" y="178" width="8" height="1" fill="#000"/>
<rect x="69" y="167" width="175" height="6" fill="#000"/>
<rect x="68" y="173" width="177" height="7" fill="#000"/>
<rect x="69" y="174" width="1" height="5" fill="#fff"/>
<rect x="243" y="174" width="1" height="5" fill="#fff"/>
<rect x="71" y="174" width="5" height="5" fill="#fff"/>
<rect x="73" y="168" width="1" height="4" fill="#fff"/>
<rect x="72" y="179" width="1" height="0.5" fill="#fff"/>
<rect x="77" y="174" width="5" height="5" fill="#fff"/>
<rect x="79" y="168" width="1" height="4" fill="#fff"/>
<rect x="78" y="179" width="1" height="0.5" fill="#fff"/>
<rect x="83" y="174" width="5" height="5" fill="#fff"/>
<rect x="85" y="168" width="1" height="13" fill="#fff"/>
<rect x="84" y="179" width="1" height="0.5" fill="#fff"/>
<rect x="89" y="174" width="4" height="5" fill="#fff"/>
<rect x="91" y="168" width="1" height="4" fill="#fff"/>
<rect x="90" y="179" width="1" height="0.5" fill="#fff"/>
<rect x="95" y="174" width="4" height="5" fill="#fff"/>
<rect x="97" y="168" width="1" height="4" fill="#fff"/>
<rect x="96" y="179" width="1" height="0.5" fill="#fff"/>
<rect x="101" y="174" width="4" height="5" fill="#fff"/>
<rect x="102" y="168" width="1" height="4" fill="#fff"/>
<rect x="102" y="179" width="1" height="0.5" fill="#fff"/>
<rect x="107" y="174" width="4" height="5" fill="#fff"/>
<rect x="108" y="168" width="1" height="13" fill="#fff"/>
<rect x="108" y="179" width="1" height="0.5" fill="#fff"/>
<rect x="113" y="174" width="4" height="5" fill="#fff"/>
<rect x="114" y="168" width="1" height="4" fill="#fff"/>
<rect x="114" y="179" width="1" height="0.5" fill="#fff"/>
<rect x="118" y="174" width="5" height="5" fill="#fff"/>
<rect x="120" y="168" width="1" height="4" fill="#fff"/>
<rect x="119" y="179" width="1" height="0.5" fill="#fff"/>
<rect x="124" y="174" width="5" height="5" fill="#fff"/>
<rect x="126" y="168" width="1" height="4" fill="#fff"/>
<rect x="125" y="179" width="1" height="0.5" fill="#fff"/>
<rect x="130" y="174" width="5" height="5" fill="#fff"/>
<rect x="132" y="168" width="1" height="4" fill="#fff"/>
<rect x="131" y="179" width="1" height="0.5" fill="#fff"/>
<rect x="136" y="174" width="5" height="5" fill="#fff"/>
<rect x="138" y="168" width="1" height="4" fill="#fff"/>
<rect x="137" y="179" width="1" height="0.5" fill="#fff"/>
<rect x="142" y="174" width="5" height="5" fill="#fff"/>
<rect x="144" y="168" width="1" height="4" fill="#fff"/>
<rect x="143" y="179" width="1" height="0.5" fill="#fff"/>
<rect x="148" y="174" width="4" height="5" fill="#fff"/>
<rect x="150" y="168" width="1" height="4" fill="#fff"/>
<rect x="149" y="179" width="1" height="0.5" fill="#fff"/>
<rect x="154" y="174" width="4" height="5" fill="#fff"/>
<rect x="156" y="168" width="1" height="13" fill="#fff"/>
<rect x="155" y="179" width="1" height="0.5" fill="#fff"/>
<rect x="160" y="174" width="4" height="5" fill="#fff"/>
<rect x="162" y="168" width="1" height="13" fill="#fff"/>
<rect x="161" y="179" width="1" height="0.5" fill="#fff"/>
<rect x="166" y="174" width="4" height="5" fill="#fff"/>
<rect x="167" y="168" width="1" height="4" fill="#fff"/>
<rect x="167" y="179" width="1" height="0.5" fill="#fff"/>
<rect x="172" y="174" width="4" height="5" fill="#fff"/>
<rect x="173" y="168" width="1" height="4" fill="#fff"/>
<rect x="173" y="179" width="1" height="0.5" fill="#fff"/>
<rect x="178" y="174" width="4" height="5" fill="#fff"/>
<rect x="179" y="168" width="1" height="4" fill="#fff"/>
<rect x="179" y="179" width="1" height="0.5" fill="#fff"/>
<rect x="183" y="174" width="5" height="5" fill="#fff"/>
<rect x="185" y="168" width="1" height="4" fill="#fff"/>
<rect x="184" y="179" width="1" height="0.5" fill="#fff"/>
<rect x="189" y="174" width="5" height="5" fill="#fff"/>
<rect x="191" y="168" width="1" height="4" fill="#fff"/>
<rect x="190" y="179" width="1" height="0.5" fill="#fff"/>
<rect x="195" y="174" width="5" height="5" fill="#fff"/>
<rect x="197" y="168" width="1" height="4" fill="#fff"/>
<rect x="196" y="179" width="1" height="0.5" fill="#fff"/>
<rect x="201" y="174" width="5" height="5" fill="#fff"/>
<rect x="203" y="168" width="1" height="13" fill="#fff"/>
<rect x="202" y="179" width="1" height="0.5" fill="#fff"/>
<rect x="207" y="174" width="4" height="5" fill="#fff"/>
<rect x="209" y="168" width="1" height="4" fill="#fff"/>
<rect x="208" y="179" width="1" height="0.5" fill="#fff"/>
<rect x="213" y="174" width="4" height="5" fill="#fff"/>
<rect x="215" y="168" width="1" height="4" fill="#fff"/>
<rect x="214" y="179" width="1" height="0.5" fill="#fff"/>
<rect x="219" y="174" width="4" height="5" fill="#fff"/>
<rect x="220" y="168" width="1" height="4" fill="#fff"/>
<rect x="220" y="179" width="1" height="0.5" fill="#fff"/>
<rect x="225" y="174" width="4" height="5" fill="#fff"/>
<rect x="226" y="168" width="1" height="4" fill="#fff"/>
<rect x="226" y="179" width="1" height="0.5" fill="#fff"/>
<rect x="231" y="174" width="4" height="5" fill="#fff"/>
<rect x="232" y="168" width="1" height="4" fill="#fff"/>
<rect x="232" y="179" width="1" height="0.5" fill="#fff"/>
<rect x="236" y="174" width="5" height="5" fill="#fff"/>
<rect x="238" y="168" width="1" height="4" fill="#fff"/>
<rect x="237" y="179" width="1" height="0.5" fill="#fff"/>
<rect x="44" y="184" width="226" height="19" fill="#000"/>
<rect x="45" y="185" width="224" height="17" fill="#fff"/>
<rect x="54" y="201" width="208" height="1" fill="#000"/>
<rect x="44" y="191" width="8" height="1" fill="#000"/>
<rect x="44" y="198" width="8" height="1" fill="#000"/>
<rect x="51" y="184" width="4" height="19" fill="#000"/>
<rect x="53" y="200" width="1" height="1" fill="#fff"/>
<path d="M54.5,186.5H61.5V190.5H64.5V199.5H54.5" fill="#fff" stroke="#000" stroke-width="1"/>
<path d="M54.5,189.5H58.5V192.5H61.5V190.5" fill="none" stroke="#000" stroke-width="1"/>
<path d="M258.5,186.5H251.5V190.5H248.5V199.5H258.5" fill="#fff" stroke="#000" stroke-width="1"/>
<path d="M258.5,189.5H255.5V192.5H251.5V190.5" fill="none" stroke="#000" stroke-width="1"/>
<rect x="255" y="188" width="3" height="2" fill="#000"/>
<rect x="258" y="184" width="4" height="18" fill="#000"/>
<rect x="260" y="186" width="1" height="15" fill="#fff"/>
<rect x="262" y="191" width="8" height="1" fill="#000"/>
<rect x="262" y="198" width="8" height="1" fill="#000"/>
<rect x="69" y="187" width="175" height="6" fill="#000"/>
<rect x="68" y="193" width="177" height="7" fill="#000"/>
<rect x="69" y="194" width="1" height="5" fill="#fff"/>
<rect x="243" y="194" width="1" height="5" fill="#fff"/>
<rect x="71" y="194" width="5" height="5" fill="#fff"/>
<rect x="73" y="188" width="1" height="4" fill="#fff"/>
<rect x="72" y="199" width="1" height="0.5" fill="#fff"/>
<rect x="77" y="194" width="5" height="5" fill="#fff"/>
<rect x="79" y="188" width="1" height="4" fill="#fff"/>
<rect x="78" y="199" width="1" height="0.5" fill="#fff"/>
<rect x="83" y="194" width="5" height="5" fill="#fff"/>
<rect x="85" y="188" width="1" height="13" fill="#fff"/>
<rect x="84" y="199" width="1" height="0.5" fill="#fff"/>
<rect x="89" y="194" width="4" height="5" fill="#fff"/>
<rect x="91" y="188" width="1" height="4" fill="#fff"/>
<rect x="90" y="199" width="1" height="0.5" fill="#fff"/>
<rect x="95" y="194" width="4" height="5" fill="#fff"/>
<rect x="97" y="188" width="1" height="4" fill="#fff"/>
<rect x="96" y="199" width="1" height="0.5" fill="#fff"/>
<rect x="101" y="194" width="4" height="5" fill="#fff"/>
<rect x="102" y="188" width="1" height="4" fill="#fff"/>
<rect x="102" y="199" width="1" height="0.5" fill="#fff"/>
<rect x="107" y="194" width="4" height="5" fill="#fff"/>
<rect x="108" y="188" width="1" height="13" fill="#fff"/>
<rect x="108" y="199" width="1" height="0.5" fill="#fff"/>
<rect x="113" y="194" width="4" height="5" fill="#fff"/>
<rect x="114" y="188" width="1" height="4" fill="#fff"/>
<rect x="114" y="199" width="1" height="0.5" fill="#fff"/>
<rect x="118" y="194" width="5" height="5" fill="#fff"/>
<rect x="120" y="188" width="1" height="4" fill="#fff"/>
<rect x="119" y="199" width="1" height="0.5" fill="#fff"/>
<rect x="124" y="194" width="5" height="5" fill="#fff"/>
<rect x="126" y="188" width="1" height="4" fill="#fff"/>
<rect x="125" y="199" width="1" height="0.5" fill="#fff"/>
<rect x="130" y="194" width="5" height="5" fill="#fff"/>
<rect x="132" y="188" width="1" height="4" fill="#fff"/>
<rect x="131" y="199" width="1" height="0.5" fill="#fff"/>
<rect x="136" y="194" width="5" height="5" fill="#fff"/>
<rect x="138" y="188" width="1" height="4" fill="#fff"/>
<rect x="137" y="199" width="1" height="0.5" fill="#fff"/>
<rect x="142" y="194" width="5" height="5" fill="#fff"/>
<rect x="144" y="188" width="1" height="4" fill="#fff"/>
<rect x="143" y="199" width="1" height="0.5" fill="#fff"/>
<rect x="148" y="194" width="4" height="5" fill="#fff"/>
<rect x="150" y="188" width="1" height="4" fill="#fff"/>
<rect x="149" y="199" width="1" height="0.5" fill="#fff"/>
<rect x="154" y="194" width="4" height="5" fill="#fff"/>
<rect x="156" y="188" width="1" height="13" fill="#fff"/>
<rect x="155" y="199" width="1" height="0.5" fill="#fff"/>
<rect x="160" y="194" width="4" height="5" fill="#fff"/>
<rect x="162" y="188" width="1" height="13" fill="#fff"/>
<rect x="161" y="199" width="1" height="0.5" fill="#fff"/>
<rect x="166" y="194" width="4" height="5" fill="#fff"/>
<rect x="167" y="188" width="1" height="4" fill="#fff"/>
<rect x="167" y="199" width="1" height="0.5" fill="#fff"/>
<rect x="172" y="194" width="4" height="5" fill="#fff"/>
<rect x="173" y="188" width="1" height="4" fill="#fff"/>
<rect x="173" y="199" width="1" height="0.5" fill="#fff"/>
<rect x="178" y="194" width="4" height="5" fill="#fff"/>
<rect x="179" y="188" width="1" height="4" fill="#fff"/>
<rect x="179" y="199" width="1" height="0.5" fill="#fff"/>
<rect x="183" y="194" width="5" height="5" fill="#fff"/>
<rect x="185" y="188" width="1" height="4" fill="#fff"/>
<rect x="184" y="199" width="1" height="0.5" fill="#fff"/>
<rect x="189" y="194" width="5" height="5" fill="#fff"/>
<rect x="191" y="188" width="1" height="4" fill="#fff"/>
<rect x="190" y="199" width="1" height="0.5" fill="#fff"/>
<rect x="195" y="194" width="5" height="5" fill="#fff"/>
<rect x="197" y="188" width="1" height="4" fill="#fff"/>
<rect x="196" y="199" width="1" height="0.5" fill="#fff"/>
<rect x="201" y="194" width="5" height="5" fill="#fff"/>
<rect x="203" y="188" width="1" height="13" fill="#fff"/>
<rect x="202" y="199" width="1" height="0.5" fill="#fff"/>
<rect x="207" y="194" width="4" height="5" fill="#fff"/>
<rect x="209" y="188" width="1" height="4" fill="#fff"/>
<rect x="208" y="199" width="1" height="0.5" fill="#fff"/>
<rect x="213" y="194" width="4" height="5" fill="#fff"/>
<rect x="215" y="188" width="1" height="4" fill="#fff"/>
<rect x="214" y="199" width="1" height="0.5" fill="#fff"/>
<rect x="219" y="194" width="4" height="5" fill="#fff"/>
<rect x="220" y="188" width="1" height="4" fill="#fff"/>
<rect x="220" y="199" width="1" height="0.5" fill="#fff"/>
<rect x="225" y="194" width="4" height="5" fill="#fff"/>
<rect x="226" y="188" width="1" height="4" fill="#fff"/>
<rect x="226" y="199" width="1" height="0.5" fill="#fff"/>
<rect x="231" y="194" width="4" height="5" fill="#fff"/>
<rect x="232" y="188" width="1" height="4" fill="#fff"/>
<rect x="232" y="199" width="1" height="0.5" fill="#fff"/>
<rect x="236" y="194" width="5" height="5" fill="#fff"/>
<rect x="238" y="188" width="1" height="4" fill="#fff"/>
<rect x="237" y="199" width="1" height="0.5" fill="#fff"/>
<path d="M54,271H147V359L144,362H54Z" fill="#000" stroke="none" stroke-width="1"/>
<rect class="d" x="58.30" y="274.90" width="3" height="2.8" rx="1.4" fill="#fff"/>
<rect class="d" x="64.14" y="274.90" width="3" height="2.8" rx="0.6" fill="#fff"/>
<rect class="d" x="69.98" y="274.90" width="3" height="2.8" rx="0.6" fill="#fff"/>
<rect class="d" x="75.82" y="274.90" width="3" height="2.8" rx="0.6" fill="#fff"/>
<rect class="d" x="81.66" y="274.90" width="3" height="2.8" rx="1.4" fill="#fff"/>
<rect class="d" x="87.50" y="274.90" width="3" height="2.8" rx="0.6" fill="#fff"/>
<rect class="d" x="93.34" y="274.90" width="3" height="2.8" rx="0.6" fill="#fff"/>
<rect class="d" x="99.18" y="274.90" width="3" height="2.8" rx="0.6" fill="#fff"/>
<rect class="d" x="105.02" y="274.90" width="3" height="2.8" rx="1.4" fill="#fff"/>
<rect class="d" x="110.86" y="274.90" width="3" height="2.8" rx="0.6" fill="#fff"/>
<rect class="d" x="116.70" y="274.90" width="3" height="2.8" rx="0.6" fill="#fff"/>
<rect class="d" x="122.54" y="274.90" width="3" height="2.8" rx="0.6" fill="#fff"/>
<rect class="d" x="128.38" y="274.90" width="3" height="2.8" rx="1.4" fill="#fff"/>
<rect class="d" x="134.22" y="274.90" width="3" height="2.8" rx="0.6" fill="#fff"/>
<rect class="d" x="140.06" y="274.90" width="3" height="2.8" rx="0.6" fill="#fff"/>
<rect class="d" x="58.30" y="280.67" width="3" height="2.8" rx="0.6" fill="#fff"/>
<rect class="d" x="64.14" y="280.67" width="3" height="2.8" rx="0.6" fill="#fff"/>
<rect class="d" x="69.98" y="280.67" width="3" height="2.8" rx="0.6" fill="#fff"/>
<rect class="d" x="75.82" y="280.67" width="3" height="2.8" rx="1.4" fill="#fff"/>
<rect class="d" x="81.66" y="280.67" width="3" height="2.8" rx="0.6" fill="#fff"/>
<rect class="d" x="87.50" y="280.67" width="3" height="2.8" rx="0.6" fill="#fff"/>
<rect class="d" x="93.34" y="280.67" width="3" height="2.8" rx="0.6" fill="#fff"/>
<rect class="d" x="99.18" y="280.67" width="3" height="2.8" rx="1.4" fill="#fff"/>
<rect class="d" x="105.02" y="280.67" width="3" height="2.8" rx="0.6" fill="#fff"/>
<rect class="d" x="110.86" y="280.67" width="3" height="2.8" rx="0.6" fill="#fff"/>
<rect class="d" x="116.70" y="280.67" width="3" height="2.8" rx="0.6" fill="#fff"/>
<rect class="d" x="122.54" y="280.67" width="3" height="2.8" rx="1.4" fill="#fff"/>
<rect class="d" x="128.38" y="280.67" width="3" height="2.8" rx="0.6" fill="#fff"/>
<rect class="d" x="134.22" y="280.67" width="3" height="2.8" rx="0.6" fill="#fff"/>
<rect class="d" x="140.06" y="280.67" width="3" height="2.8" rx="0.6" fill="#fff"/>
<rect class="d" x="58.30" y="286.44" width="3" height="2.8" rx="0.6" fill="#fff"/>
<rect class="d" x="64.14" y="286.44" width="3" height="2.8" rx="0.6" fill="#fff"/>
<rect class="d" x="69.98" y="286.44" width="3" height="2.8" rx="1.4" fill="#fff"/>
<rect class="d" x="75.82" y="286.44" width="3" height="2.8" rx="0.6" fill="#fff"/>
<rect class="d" x="81.66" y="286.44" width="3" height="2.8" rx="0.6" fill="#fff"/>
<rect class="d" x="87.50" y="286.44" width="3" height="2.8" rx="0.6" fill="#fff"/>
<rect class="d" x="93.34" y="286.44" width="3" height="2.8" rx="1.4" fill="#fff"/>
<rect class="d" x="99.18" y="286.44" width="3" height="2.8" rx="0.6" fill="#fff"/>
<rect class="d" x="105.02" y="286.44" width="3" height="2.8" rx="0.6" fill="#fff"/>
<rect class="d" x="110.86" y="286.44" width="3" height="2.8" rx="0.6" fill="#fff"/>
<rect class="d" x="116.70" y="286.44" width="3" height="2.8" rx="1.4" fill="#fff"/>
<rect class="d" x="122.54" y="286.44" width="3" height="2.8" rx="0.6" fill="#fff"/>
<rect class="d" x="128.38" y="286.44" width="3" height="2.8" rx="0.6" fill="#fff"/>
<rect class="d" x="134.22" y="286.44" width="3" height="2.8" rx="0.6" fill="#fff"/>
<rect class="d" x="140.06" y="286.44" width="3" height="2.8" rx="1.4" fill="#fff"/>
<rect class="d" x="58.30" y="292.21" width="3" height="2.8" rx="0.6" fill="#fff"/>
<rect class="d" x="64.14" y="292.21" width="3" height="2.8" rx="1.4" fill="#fff"/>
<rect class="d" x="69.98" y="292.21" width="3" height="2.8" rx="0.6" fill="#fff"/>
<rect class="d" x="128.38" y="292.21" width="3" height="2.8" rx="0.6" fill="#fff"/>
<rect class="d" x="134.22" y="292.21" width="3" height="2.8" rx="1.4" fill="#fff"/>
<rect class="d" x="140.06" y="292.21" width="3" height="2.8" rx="0.6" fill="#fff"/>
<rect class="d" x="58.30" y="297.98" width="3" height="2.8" rx="1.4" fill="#fff"/>
<rect class="d" x="64.14" y="297.98" width="3" height="2.8" rx="0.6" fill="#fff"/>
<rect class="d" x="69.98" y="297.98" width="3" height="2.8" rx="0.6" fill="#fff"/>
<rect class="d" x="128.38" y="297.98" width="3" height="2.8" rx="1.4" fill="#fff"/>
<rect class="d" x="134.22" y="297.98" width="3" height="2.8" rx="0.6" fill="#fff"/>
<rect class="d" x="140.06" y="297.98" width="3" height="2.8" rx="0.6" fill="#fff"/>
<rect class="d" x="58.30" y="303.75" width="3" height="2.8" rx="0.6" fill="#fff"/>
<rect class="d" x="64.14" y="303.75" width="3" height="2.8" rx="0.6" fill="#fff"/>
<rect class="d" x="69.98" y="303.75" width="3" height="2.8" rx="0.6" fill="#fff"/>
<rect class="d" x="128.38" y="303.75" width="3" height="2.8" rx="0.6" fill="#fff"/>
<rect class="d" x="134.22" y="303.75" width="3" height="2.8" rx="0.6" fill="#fff"/>
<rect class="d" x="140.06" y="303.75" width="3" height="2.8" rx="0.6" fill="#fff"/>
<rect class="d" x="58.30" y="309.52" width="3" height="2.8" rx="0.6" fill="#fff"/>
<rect class="d" x="64.14" y="309.52" width="3" height="2.8" rx="0.6" fill="#fff"/>
<rect class="d" x="69.98" y="309.52" width="3" height="2.8" rx="1.4" fill="#fff"/>
<rect class="d" x="128.38" y="309.52" width="3" height="2.8" rx="0.6" fill="#fff"/>
<rect class="d" x="134.22" y="309.52" width="3" height="2.8" rx="0.6" fill="#fff"/>
<rect class="d" x="140.06" y="309.52" width="3" height="2.8" rx="1.4" fill="#fff"/>
<rect class="d" x="58.30" y="315.29" width="3" height="2.8" rx="0.6" fill="#fff"/>
<rect class="d" x="64.14" y="315.29" width="3" height="2.8" rx="1.4" fill="#fff"/>
<rect class="d" x="69.98" y="315.29" width="3" height="2.8" rx="0.6" fill="#fff"/>
<rect class="d" x="128.38" y="315.29" width="3" height="2.8" rx="0.6" fill="#fff"/>
<rect class="d" x="134.22" y="315.29" width="3" height="2.8" rx="1.4" fill="#fff"/>
<rect class="d" x="140.06" y="315.29" width="3" height="2.8" rx="0.6" fill="#fff"/>
<rect class="d" x="58.30" y="321.06" width="3" height="2.8" rx="1.4" fill="#fff"/>
<rect class="d" x="64.14" y="321.06" width="3" height="2.8" rx="0.6" fill="#fff"/>
<rect class="d" x="69.98" y="321.06" width="3" height="2.8" rx="0.6" fill="#fff"/>
<rect class="d" x="128.38" y="321.06" width="3" height="2.8" rx="1.4" fill="#fff"/>
<rect class="d" x="134.22" y="321.06" width="3" height="2.8" rx="0.6" fill="#fff"/>
<rect class="d" x="140.06" y="321.06" width="3" height="2.8" rx="0.6" fill="#fff"/>
<rect class="d" x="58.30" y="326.83" width="3" height="2.8" rx="0.6" fill="#fff"/>
<rect class="d" x="64.14" y="326.83" width="3" height="2.8" rx="0.6" fill="#fff"/>
<rect class="d" x="69.98" y="326.83" width="3" height="2.8" rx="0.6" fill="#fff"/>
<rect class="d" x="128.38" y="326.83" width="3" height="2.8" rx="0.6" fill="#fff"/>
<rect class="d" x="134.22" y="326.83" width="3" height="2.8" rx="0.6" fill="#fff"/>
<rect class="d" x="140.06" y="326.83" width="3" height="2.8" rx="0.6" fill="#fff"/>
<rect class="d" x="58.30" y="332.60" width="3" height="2.8" rx="0.6" fill="#fff"/>
<rect class="d" x="64.14" y="332.60" width="3" height="2.8" rx="0.6" fill="#fff"/>
<rect class="d" x="69.98" y="332.60" width="3" height="2.8" rx="1.4" fill="#fff"/>
<rect class="d" x="128.38" y="332.60" width="3" height="2.8" rx="0.6" fill="#fff"/>
<rect class="d" x="134.22" y="332.60" width="3" height="2.8" rx="0.6" fill="#fff"/>
<rect class="d" x="140.06" y="332.60" width="3" height="2.8" rx="1.4" fill="#fff"/>
<rect class="d" x="58.30" y="338.37" width="3" height="2.8" rx="0.6" fill="#fff"/>
<rect class="d" x="64.14" y="338.37" width="3" height="2.8" rx="1.4" fill="#fff"/>
<rect class="d" x="69.98" y="338.37" width="3" height="2.8" rx="0.6" fill="#fff"/>
<rect class="d" x="128.38" y="338.37" width="3" height="2.8" rx="0.6" fill="#fff"/>
<rect class="d" x="134.22" y="338.37" width="3" height="2.8" rx="1.4" fill="#fff"/>
<rect class="d" x="140.06" y="338.37" width="3" height="2.8" rx="0.6" fill="#fff"/>
<rect class="d" x="58.30" y="344.14" width="3" height="2.8" rx="1.4" fill="#fff"/>
<rect class="d" x="64.14" y="344.14" width="3" height="2.8" rx="0.6" fill="#fff"/>
<rect class="d" x="69.98" y="344.14" width="3" height="2.8" rx="0.6" fill="#fff"/>
<rect class="d" x="75.82" y="344.14" width="3" height="2.8" rx="0.6" fill="#fff"/>
<rect class="d" x="81.66" y="344.14" width="3" height="2.8" rx="1.4" fill="#fff"/>
<rect class="d" x="87.50" y="344.14" width="3" height="2.8" rx="0.6" fill="#fff"/>
<rect class="d" x="93.34" y="344.14" width="3" height="2.8" rx="0.6" fill="#fff"/>
<rect class="d" x="99.18" y="344.14" width="3" height="2.8" rx="0.6" fill="#fff"/>
<rect class="d" x="105.02" y="344.14" width="3" height="2.8" rx="1.4" fill="#fff"/>
<rect class="d" x="110.86" y="344.14" width="3" height="2.8" rx="0.6" fill="#fff"/>
<rect class="d" x="116.70" y="344.14" width="3" height="2.8" rx="0.6" fill="#fff"/>
<rect class="d" x="122.54" y="344.14" width="3" height="2.8" rx="0.6" fill="#fff"/>
<rect class="d" x="128.38" y="344.14" width="3" height="2.8" rx="1.4" fill="#fff"/>
<rect class="d" x="134.22" y="344.14" width="3" height="2.8" rx="0.6" fill="#fff"/>
<rect class="d" x="140.06" y="344.14" width="3" height="2.8" rx="0.6" fill="#fff"/>
<rect class="d" x="58.30" y="349.91" width="3" height="2.8" rx="0.6" fill="#fff"/>
<rect class="d" x="64.14" y="349.91" width="3" height="2.8" rx="0.6" fill="#fff"/>
<rect class="d" x="69.98" y="349.91" width="3" height="2.8" rx="0.6" fill="#fff"/>
<rect class="d" x="75.82" y="349.91" width="3" height="2.8" rx="1.4" fill="#fff"/>
<rect class="d" x="81.66" y="349.91" width="3" height="2.8" rx="0.6" fill="#fff"/>
<rect class="d" x="87.50" y="349.91" width="3" height="2.8" rx="0.6" fill="#fff"/>
<rect class="d" x="93.34" y="349.91" width="3" height="2.8" rx="0.6" fill="#fff"/>
<rect class="d" x="99.18" y="349.91" width="3" height="2.8" rx="1.4" fill="#fff"/>
<rect class="d" x="105.02" y="349.91" width="3" height="2.8" rx="0.6" fill="#fff"/>
<rect class="d" x="110.86" y="349.91" width="3" height="2.8" rx="0.6" fill="#fff"/>
<rect class="d" x="116.70" y="349.91" width="3" height="2.8" rx="0.6" fill="#fff"/>
<rect class="d" x="122.54" y="349.91" width="3" height="2.8" rx="1.4" fill="#fff"/>
<rect class="d" x="128.38" y="349.91" width="3" height="2.8" rx="0.6" fill="#fff"/>
<rect class="d" x="134.22" y="349.91" width="3" height="2.8" rx="0.6" fill="#fff"/>
<rect class="d" x="140.06" y="349.91" width="3" height="2.8" rx="0.6" fill="#fff"/>
<rect class="d" x="58.30" y="355.68" width="3" height="2.8" rx="0.6" fill="#fff"/>
<rect class="d" x="64.14" y="355.68" width="3" height="2.8" rx="0.6" fill="#fff"/>
<rect class="d" x="69.98" y="355.68" width="3" height="2.8" rx="1.4" fill="#fff"/>
<rect class="d" x="75.82" y="355.68" width="3" height="2.8" rx="0.6" fill="#fff"/>
<rect class="d" x="81.66" y="355.68" width="3" height="2.8" rx="0.6" fill="#fff"/>
<rect class="d" x="87.50" y="355.68" width="3" height="2.8" rx="0.6" fill="#fff"/>
<rect class="d" x="93.34" y="355.68" width="3" height="2.8" rx="1.4" fill="#fff"/>
<rect class="d" x="99.18" y="355.68" width="3" height="2.8" rx="0.6" fill="#fff"/>
<rect class="d" x="105.02" y="355.68" width="3" height="2.8" rx="0.6" fill="#fff"/>
<rect class="d" x="110.86" y="355.68" width="3" height="2.8" rx="0.6" fill="#fff"/>
<rect class="d" x="116.70" y="355.68" width="3" height="2.8" rx="1.4" fill="#fff"/>
<rect class="d" x="122.54" y="355.68" width="3" height="2.8" rx="0.6" fill="#fff"/>
<rect class="d" x="128.38" y="355.68" width="3" height="2.8" rx="0.6" fill="#fff"/>
<rect class="d" x="134.22" y="355.68" width="3" height="2.8" rx="0.6" fill="#fff"/>
<rect class="d" x="140.06" y="355.68" width="3" height="2.8" rx="1.4" fill="#fff"/>
<rect x="78" y="294" width="46" height="46" fill="#fff"/>
<circle cx="119.7" cy="335.3" r="2.5" fill="#000"/>
<path d="M164,261H270V365L267,368H164Z" fill="#000" stroke="none" stroke-width="1"/>
<rect class="d" x="167.90" y="266.05" width="3.8" height="3.1" rx="1.4" fill="#fff"/>
<rect class="d" x="174.72" y="266.05" width="3.8" height="3.1" rx="0.6" fill="#fff"/>
<rect class="d" x="181.54" y="266.05" width="3.8" height="3.1" rx="0.6" fill="#fff"/>
<rect class="d" x="188.36" y="266.05" width="3.8" height="3.1" rx="0.6" fill="#fff"/>
<rect class="d" x="195.18" y="266.05" width="3.8" height="3.1" rx="1.4" fill="#fff"/>
<rect class="d" x="202.00" y="266.05" width="3.8" height="3.1" rx="0.6" fill="#fff"/>
<rect class="d" x="208.82" y="266.05" width="3.8" height="3.1" rx="0.6" fill="#fff"/>
<rect class="d" x="215.64" y="266.05" width="3.8" height="3.1" rx="0.6" fill="#fff"/>
<rect class="d" x="222.46" y="266.05" width="3.8" height="3.1" rx="1.4" fill="#fff"/>
<rect class="d" x="229.28" y="266.05" width="3.8" height="3.1" rx="0.6" fill="#fff"/>
<rect class="d" x="236.10" y="266.05" width="3.8" height="3.1" rx="0.6" fill="#fff"/>
<rect class="d" x="242.92" y="266.05" width="3.8" height="3.1" rx="0.6" fill="#fff"/>
<rect class="d" x="249.74" y="266.05" width="3.8" height="3.1" rx="1.4" fill="#fff"/>
<rect class="d" x="256.56" y="266.05" width="3.8" height="3.1" rx="0.6" fill="#fff"/>
<rect class="d" x="263.38" y="266.05" width="3.8" height="3.1" rx="0.6" fill="#fff"/>
<rect class="d" x="167.90" y="272.69" width="3.8" height="3.1" rx="0.6" fill="#fff"/>
<rect class="d" x="174.72" y="272.69" width="3.8" height="3.1" rx="0.6" fill="#fff"/>
<rect class="d" x="181.54" y="272.69" width="3.8" height="3.1" rx="0.6" fill="#fff"/>
<rect class="d" x="188.36" y="272.69" width="3.8" height="3.1" rx="1.4" fill="#fff"/>
<rect class="d" x="195.18" y="272.69" width="3.8" height="3.1" rx="0.6" fill="#fff"/>
<rect class="d" x="202.00" y="272.69" width="3.8" height="3.1" rx="0.6" fill="#fff"/>
<rect class="d" x="208.82" y="272.69" width="3.8" height="3.1" rx="0.6" fill="#fff"/>
<rect class="d" x="215.64" y="272.69" width="3.8" height="3.1" rx="1.4" fill="#fff"/>
<rect class="d" x="222.46" y="272.69" width="3.8" height="3.1" rx="0.6" fill="#fff"/>
<rect class="d" x="229.28" y="272.69" width="3.8" height="3.1" rx="0.6" fill="#fff"/>
<rect class="d" x="236.10" y="272.69" width="3.8" height="3.1" rx="0.6" fill="#fff"/>
<rect class="d" x="242.92" y="272.69" width="3.8" height="3.1" rx="1.4" fill="#fff"/>
<rect class="d" x="249.74" y="272.69" width="3.8" height="3.1" rx="0.6" fill="#fff"/>
<rect class="d" x="256.56" y="272.69" width="3.8" height="3.1" rx="0.6" fill="#fff"/>
<rect class="d" x="263.38" y="272.69" width="3.8" height="3.1" rx="0.6" fill="#fff"/>
<rect class="d" x="167.90" y="279.33" width="3.8" height="3.1" rx="0.6" fill="#fff"/>
<rect class="d" x="174.72" y="279.33" width="3.8" height="3.1" rx="0.6" fill="#fff"/>
<rect class="d" x="181.54" y="279.33" width="3.8" height="3.1" rx="1.4" fill="#fff"/>
<rect class="d" x="188.36" y="279.33" width="3.8" height="3.1" rx="0.6" fill="#fff"/>
<rect class="d" x="195.18" y="279.33" width="3.8" height="3.1" rx="0.6" fill="#fff"/>
<rect class="d" x="202.00" y="279.33" width="3.8" height="3.1" rx="0.6" fill="#fff"/>
<rect class="d" x="208.82" y="279.33" width="3.8" height="3.1" rx="1.4" fill="#fff"/>
<rect class="d" x="215.64" y="279.33" width="3.8" height="3.1" rx="0.6" fill="#fff"/>
<rect class="d" x="222.46" y="279.33" width="3.8" height="3.1" rx="0.6" fill="#fff"/>
<rect class="d" x="229.28" y="279.33" width="3.8" height="3.1" rx="0.6" fill="#fff"/>
<rect class="d" x="236.10" y="279.33" width="3.8" height="3.1" rx="1.4" fill="#fff"/>
<rect class="d" x="242.92" y="279.33" width="3.8" height="3.1" rx="0.6" fill="#fff"/>
<rect class="d" x="249.74" y="279.33" width="3.8" height="3.1" rx="0.6" fill="#fff"/>
<rect class="d" x="256.56" y="279.33" width="3.8" height="3.1" rx="0.6" fill="#fff"/>
<rect class="d" x="263.38" y="279.33" width="3.8" height="3.1" rx="1.4" fill="#fff"/>
<rect class="d" x="167.90" y="285.97" width="3.8" height="3.1" rx="0.6" fill="#fff"/>
<rect class="d" x="174.72" y="285.97" width="3.8" height="3.1" rx="1.4" fill="#fff"/>
<rect class="d" x="181.54" y="285.97" width="3.8" height="3.1" rx="0.6" fill="#fff"/>
<rect class="d" x="249.74" y="285.97" width="3.8" height="3.1" rx="0.6" fill="#fff"/>
<rect class="d" x="256.56" y="285.97" width="3.8" height="3.1" rx="1.4" fill="#fff"/>
<rect class="d" x="263.38" y="285.97" width="3.8" height="3.1" rx="0.6" fill="#fff"/>
<rect class="d" x="167.90" y="292.61" width="3.8" height="3.1" rx="1.4" fill="#fff"/>
<rect class="d" x="174.72" y="292.61" width="3.8" height="3.1" rx="0.6" fill="#fff"/>
<rect class="d" x="181.54" y="292.61" width="3.8" height="3.1" rx="0.6" fill="#fff"/>
<rect class="d" x="249.74" y="292.61" width="3.8" height="3.1" rx="1.4" fill="#fff"/>
<rect class="d" x="256.56" y="292.61" width="3.8" height="3.1" rx="0.6" fill="#fff"/>
<rect class="d" x="263.38" y="292.61" width="3.8" height="3.1" rx="0.6" fill="#fff"/>
<rect class="d" x="167.90" y="299.25" width="3.8" height="3.1" rx="0.6" fill="#fff"/>
<rect class="d" x="174.72" y="299.25" width="3.8" height="3.1" rx="0.6" fill="#fff"/>
<rect class="d" x="181.54" y="299.25" width="3.8" height="3.1" rx="0.6" fill="#fff"/>
<rect class="d" x="249.74" y="299.25" width="3.8" height="3.1" rx="0.6" fill="#fff"/>
<rect class="d" x="256.56" y="299.25" width="3.8" height="3.1" rx="0.6" fill="#fff"/>
<rect class="d" x="263.38" y="299.25" width="3.8" height="3.1" rx="0.6" fill="#fff"/>
<rect class="d" x="167.90" y="305.89" width="3.8" height="3.1" rx="0.6" fill="#fff"/>
<rect class="d" x="174.72" y="305.89" width="3.8" height="3.1" rx="0.6" fill="#fff"/>
<rect class="d" x="181.54" y="305.89" width="3.8" height="3.1" rx="1.4" fill="#fff"/>
<rect class="d" x="249.74" y="305.89" width="3.8" height="3.1" rx="0.6" fill="#fff"/>
<rect class="d" x="256.56" y="305.89" width="3.8" height="3.1" rx="0.6" fill="#fff"/>
<rect class="d" x="263.38" y="305.89" width="3.8" height="3.1" rx="1.4" fill="#fff"/>
<rect class="d" x="167.90" y="312.53" width="3.8" height="3.1" rx="0.6" fill="#fff"/>
<rect class="d" x="174.72" y="312.53" width="3.8" height="3.1" rx="1.4" fill="#fff"/>
<rect class="d" x="181.54" y="312.53" width="3.8" height="3.1" rx="0.6" fill="#fff"/>
<rect class="d" x="249.74" y="312.53" width="3.8" height="3.1" rx="0.6" fill="#fff"/>
<rect class="d" x="256.56" y="312.53" width="3.8" height="3.1" rx="1.4" fill="#fff"/>
<rect class="d" x="263.38" y="312.53" width="3.8" height="3.1" rx="0.6" fill="#fff"/>
<rect class="d" x="167.90" y="319.17" width="3.8" height="3.1" rx="1.4" fill="#fff"/>
<rect class="d" x="174.72" y="319.17" width="3.8" height="3.1" rx="0.6" fill="#fff"/>
<rect class="d" x="181.54" y="319.17" width="3.8" height="3.1" rx="0.6" fill="#fff"/>
<rect class="d" x="249.74" y="319.17" width="3.8" height="3.1" rx="1.4" fill="#fff"/>
<rect class="d" x="256.56" y="319.17" width="3.8" height="3.1" rx="0.6" fill="#fff"/>
<rect class="d" x="263.38" y="319.17" width="3.8" height="3.1" rx="0.6" fill="#fff"/>
<rect class="d" x="167.90" y="325.81" width="3.8" height="3.1" rx="0.6" fill="#fff"/>
<rect class="d" x="174.72" y="325.81" width="3.8" height="3.1" rx="0.6" fill="#fff"/>
<rect class="d" x="181.54" y="325.81" width="3.8" height="3.1" rx="0.6" fill="#fff"/>
<rect class="d" x="249.74" y="325.81" width="3.8" height="3.1" rx="0.6" fill="#fff"/>
<rect class="d" x="256.56" y="325.81" width="3.8" height="3.1" rx="0.6" fill="#fff"/>
<rect class="d" x="263.38" y="325.81" width="3.8" height="3.1" rx="0.6" fill="#fff"/>
<rect class="d" x="167.90" y="332.45" width="3.8" height="3.1" rx="0.6" fill="#fff"/>
<rect class="d" x="174.72" y="332.45" width="3.8" height="3.1" rx="0.6" fill="#fff"/>
<rect class="d" x="181.54" y="332.45" width="3.8" height="3.1" rx="1.4" fill="#fff"/>
<rect class="d" x="249.74" y="332.45" width="3.8" height="3.1" rx="0.6" fill="#fff"/>
<rect class="d" x="256.56" y="332.45" width="3.8" height="3.1" rx="0.6" fill="#fff"/>
<rect class="d" x="263.38" y="332.45" width="3.8" height="3.1" rx="1.4" fill="#fff"/>
<rect class="d" x="167.90" y="339.09" width="3.8" height="3.1" rx="0.6" fill="#fff"/>
<rect class="d" x="174.72" y="339.09" width="3.8" height="3.1" rx="1.4" fill="#fff"/>
<rect class="d" x="181.54" y="339.09" width="3.8" height="3.1" rx="0.6" fill="#fff"/>
<rect class="d" x="249.74" y="339.09" width="3.8" height="3.1" rx="0.6" fill="#fff"/>
<rect class="d" x="256.56" y="339.09" width="3.8" height="3.1" rx="1.4" fill="#fff"/>
<rect class="d" x="263.38" y="339.09" width="3.8" height="3.1" rx="0.6" fill="#fff"/>
<rect class="d" x="167.90" y="345.73" width="3.8" height="3.1" rx="1.4" fill="#fff"/>
<rect class="d" x="174.72" y="345.73" width="3.8" height="3.1" rx="0.6" fill="#fff"/>
<rect class="d" x="181.54" y="345.73" width="3.8" height="3.1" rx="0.6" fill="#fff"/>
<rect class="d" x="188.36" y="345.73" width="3.8" height="3.1" rx="0.6" fill="#fff"/>
<rect class="d" x="195.18" y="345.73" width="3.8" height="3.1" rx="1.4" fill="#fff"/>
<rect class="d" x="202.00" y="345.73" width="3.8" height="3.1" rx="0.6" fill="#fff"/>
<rect class="d" x="208.82" y="345.73" width="3.8" height="3.1" rx="0.6" fill="#fff"/>
<rect class="d" x="215.64" y="345.73" width="3.8" height="3.1" rx="0.6" fill="#fff"/>
<rect class="d" x="222.46" y="345.73" width="3.8" height="3.1" rx="1.4" fill="#fff"/>
<rect class="d" x="229.28" y="345.73" width="3.8" height="3.1" rx="0.6" fill="#fff"/>
<rect class="d" x="236.10" y="345.73" width="3.8" height="3.1" rx="0.6" fill="#fff"/>
<rect class="d" x="242.92" y="345.73" width="3.8" height="3.1" rx="0.6" fill="#fff"/>
<rect class="d" x="249.74" y="345.73" width="3.8" height="3.1" rx="1.4" fill="#fff"/>
<rect class="d" x="256.56" y="345.73" width="3.8" height="3.1" rx="0.6" fill="#fff"/>
<rect class="d" x="263.38" y="345.73" width="3.8" height="3.1" rx="0.6" fill="#fff"/>
<rect class="d" x="167.90" y="352.37" width="3.8" height="3.1" rx="0.6" fill="#fff"/>
<rect class="d" x="174.72" y="352.37" width="3.8" height="3.1" rx="0.6" fill="#fff"/>
<rect class="d" x="181.54" y="352.37" width="3.8" height="3.1" rx="0.6" fill="#fff"/>
<rect class="d" x="188.36" y="352.37" width="3.8" height="3.1" rx="1.4" fill="#fff"/>
<rect class="d" x="195.18" y="352.37" width="3.8" height="3.1" rx="0.6" fill="#fff"/>
<rect class="d" x="202.00" y="352.37" width="3.8" height="3.1" rx="0.6" fill="#fff"/>
<rect class="d" x="208.82" y="352.37" width="3.8" height="3.1" rx="0.6" fill="#fff"/>
<rect class="d" x="215.64" y="352.37" width="3.8" height="3.1" rx="1.4" fill="#fff"/>
<rect class="d" x="222.46" y="352.37" width="3.8" height="3.1" rx="0.6" fill="#fff"/>
<rect class="d" x="229.28" y="352.37" width="3.8" height="3.1" rx="0.6" fill="#fff"/>
<rect class="d" x="236.10" y="352.37" width="3.8" height="3.1" rx="0.6" fill="#fff"/>
<rect class="d" x="242.92" y="352.37" width="3.8" height="3.1" rx="1.4" fill="#fff"/>
<rect class="d" x="249.74" y="352.37" width="3.8" height="3.1" rx="0.6" fill="#fff"/>
<rect class="d" x="256.56" y="352.37" width="3.8" height="3.1" rx="0.6" fill="#fff"/>
<rect class="d" x="263.38" y="352.37" width="3.8" height="3.1" rx="0.6" fill="#fff"/>
<rect class="d" x="167.90" y="359.01" width="3.8" height="3.1" rx="0.6" fill="#fff"/>
<rect class="d" x="174.72" y="359.01" width="3.8" height="3.1" rx="0.6" fill="#fff"/>
<rect class="d" x="181.54" y="359.01" width="3.8" height="3.1" rx="1.4" fill="#fff"/>
<rect class="d" x="188.36" y="359.01" width="3.8" height="3.1" rx="0.6" fill="#fff"/>
<rect class="d" x="195.18" y="359.01" width="3.8" height="3.1" rx="0.6" fill="#fff"/>
<rect class="d" x="202.00" y="359.01" width="3.8" height="3.1" rx="0.6" fill="#fff"/>
<rect class="d" x="208.82" y="359.01" width="3.8" height="3.1" rx="1.4" fill="#fff"/>
<rect class="d" x="215.64" y="359.01" width="3.8" height="3.1" rx="0.6" fill="#fff"/>
<rect class="d" x="222.46" y="359.01" width="3.8" height="3.1" rx="0.6" fill="#fff"/>
<rect class="d" x="229.28" y="359.01" width="3.8" height="3.1" rx="0.6" fill="#fff"/>
<rect class="d" x="236.10" y="359.01" width="3.8" height="3.1" rx="1.4" fill="#fff"/>
<rect class="d" x="242.92" y="359.01" width="3.8" height="3.1" rx="0.6" fill="#fff"/>
<rect class="d" x="249.74" y="359.01" width="3.8" height="3.1" rx="0.6" fill="#fff"/>
<rect class="d" x="256.56" y="359.01" width="3.8" height="3.1" rx="0.6" fill="#fff"/>
<rect class="d" x="263.38" y="359.01" width="3.8" height="3.1" rx="1.4" fill="#fff"/>
<rect x="191" y="288" width="52" height="53" fill="#fff"/>
<circle cx="239" cy="336" r="2.8" fill="#000"/>
<rect x="42" y="377" width="85" height="25" fill="#000"/>
<rect x="45" y="380" width="3" height="4" fill="#fff"/>
<rect x="45" y="395" width="3" height="5" fill="#fff"/>
<rect x="51" y="380" width="3" height="4" fill="#fff"/>
<rect x="51" y="395" width="3" height="5" fill="#fff"/>
<rect x="56" y="380" width="4" height="4" fill="#fff"/>
<rect x="56" y="395" width="4" height="5" fill="#fff"/>
<rect x="62" y="380" width="4" height="4" fill="#fff"/>
<rect x="62" y="395" width="4" height="5" fill="#fff"/>
<rect x="68" y="380" width="4" height="4" fill="#fff"/>
<rect x="68" y="395" width="4" height="5" fill="#fff"/>
<rect x="74" y="380" width="3" height="4" fill="#fff"/>
<rect x="74" y="395" width="3" height="5" fill="#fff"/>
<rect x="80" y="380" width="3" height="4" fill="#fff"/>
<rect x="80" y="395" width="3" height="5" fill="#fff"/>
<rect x="86" y="380" width="3" height="4" fill="#fff"/>
<rect x="86" y="395" width="3" height="5" fill="#fff"/>
<rect x="92" y="380" width="3" height="4" fill="#fff"/>
<rect x="92" y="395" width="3" height="5" fill="#fff"/>
<rect x="97" y="380" width="4" height="4" fill="#fff"/>
<rect x="97" y="395" width="4" height="5" fill="#fff"/>
<rect x="103" y="380" width="4" height="4" fill="#fff"/>
<rect x="103" y="395" width="4" height="5" fill="#fff"/>
<rect x="109" y="380" width="4" height="4" fill="#fff"/>
<rect x="109" y="395" width="4" height="5" fill="#fff"/>
<rect x="115" y="380" width="3" height="4" fill="#fff"/>
<rect x="115" y="395" width="3" height="5" fill="#fff"/>
<rect x="121" y="380" width="3" height="4" fill="#fff"/>
<rect x="121" y="395" width="3" height="5" fill="#fff"/>
<rect x="48" y="387" width="71" height="5" fill="#fff"/>
<circle cx="127" cy="389.5" r="2" fill="#fff"/>
<rect x="132" y="377" width="85" height="25" fill="#000"/>
<rect x="135" y="380" width="3" height="4" fill="#fff"/>
<rect x="135" y="395" width="3" height="5" fill="#fff"/>
<rect x="141" y="380" width="3" height="4" fill="#fff"/>
<rect x="141" y="395" width="3" height="5" fill="#fff"/>
<rect x="146" y="380" width="4" height="4" fill="#fff"/>
<rect x="146" y="395" width="4" height="5" fill="#fff"/>
<rect x="152" y="380" width="4" height="4" fill="#fff"/>
<rect x="152" y="395" width="4" height="5" fill="#fff"/>
<rect x="158" y="380" width="4" height="4" fill="#fff"/>
<rect x="158" y="395" width="4" height="5" fill="#fff"/>
<rect x="164" y="380" width="3" height="4" fill="#fff"/>
<rect x="164" y="395" width="3" height="5" fill="#fff"/>
<rect x="170" y="380" width="3" height="4" fill="#fff"/>
<rect x="170" y="395" width="3" height="5" fill="#fff"/>
<rect x="176" y="380" width="3" height="4" fill="#fff"/>
<rect x="176" y="395" width="3" height="5" fill="#fff"/>
<rect x="182" y="380" width="3" height="4" fill="#fff"/>
<rect x="182" y="395" width="3" height="5" fill="#fff"/>
<rect x="187" y="380" width="4" height="4" fill="#fff"/>
<rect x="187" y="395" width="4" height="5" fill="#fff"/>
<rect x="193" y="380" width="4" height="4" fill="#fff"/>
<rect x="193" y="395" width="4" height="5" fill="#fff"/>
<rect x="199" y="380" width="4" height="4" fill="#fff"/>
<rect x="199" y="395" width="4" height="5" fill="#fff"/>
<rect x="205" y="380" width="3" height="4" fill="#fff"/>
<rect x="205" y="395" width="3" height="5" fill="#fff"/>
<rect x="211" y="380" width="3" height="4" fill="#fff"/>
<rect x="211" y="395" width="3" height="5" fill="#fff"/>
<rect x="138" y="387" width="71" height="5" fill="#fff"/>
<circle cx="217" cy="389.5" r="2" fill="#fff"/>
<rect x="219" y="377" width="84" height="25" fill="#000"/>
<rect x="222" y="380" width="3" height="4" fill="#fff"/>
<rect x="222" y="395" width="3" height="5" fill="#fff"/>
<rect x="228" y="380" width="3" height="4" fill="#fff"/>
<rect x="228" y="395" width="3" height="5" fill="#fff"/>
<rect x="234" y="380" width="3" height="4" fill="#fff"/>
<rect x="234" y="395" width="3" height="5" fill="#fff"/>
<rect x="239" y="380" width="4" height="4" fill="#fff"/>
<rect x="239" y="395" width="4" height="5" fill="#fff"/>
<rect x="245" y="380" width="4" height="4" fill="#fff"/>
<rect x="245" y="395" width="4" height="5" fill="#fff"/>
<rect x="251" y="380" width="3" height="4" fill="#fff"/>
<rect x="251" y="395" width="3" height="5" fill="#fff"/>
<rect x="257" y="380" width="3" height="4" fill="#fff"/>
<rect x="257" y="395" width="3" height="5" fill="#fff"/>
<rect x="263" y="380" width="3" height="4" fill="#fff"/>
<rect x="263" y="395" width="3" height="5" fill="#fff"/>
<rect x="269" y="380" width="3" height="4" fill="#fff"/>
<rect x="269" y="395" width="3" height="5" fill="#fff"/>
<rect x="274" y="380" width="4" height="4" fill="#fff"/>
<rect x="274" y="395" width="4" height="5" fill="#fff"/>
<rect x="280" y="380" width="4" height="4" fill="#fff"/>
<rect x="280" y="395" width="4" height="5" fill="#fff"/>
<rect x="286" y="380" width="4" height="4" fill="#fff"/>
<rect x="286" y="395" width="4" height="5" fill="#fff"/>
<rect x="292" y="380" width="3" height="4" fill="#fff"/>
<rect x="292" y="395" width="3" height="5" fill="#fff"/>
<rect x="298" y="380" width="3" height="4" fill="#fff"/>
<rect x="298" y="395" width="3" height="5" fill="#fff"/>
<rect x="225" y="387" width="70" height="5" fill="#fff"/>
<circle cx="303" cy="389.5" r="2" fill="#fff"/>
<rect x="42" y="404" width="85" height="24" fill="#000"/>
<rect x="45" y="407" width="3" height="4" fill="#fff"/>
<rect x="45" y="422" width="3" height="5" fill="#fff"/>
<rect x="51" y="407" width="3" height="4" fill="#fff"/>
<rect x="51" y="422" width="3" height="5" fill="#fff"/>
<rect x="56" y="407" width="4" height="4" fill="#fff"/>
<rect x="56" y="422" width="4" height="5" fill="#fff"/>
<rect x="62" y="407" width="4" height="4" fill="#fff"/>
<rect x="62" y="422" width="4" height="5" fill="#fff"/>
<rect x="68" y="407" width="4" height="4" fill="#fff"/>
<rect x="68" y="422" width="4" height="5" fill="#fff"/>
<rect x="74" y="407" width="3" height="4" fill="#fff"/>
<rect x="74" y="422" width="3" height="5" fill="#fff"/>
<rect x="80" y="407" width="3" height="4" fill="#fff"/>
<rect x="80" y="422" width="3" height="5" fill="#fff"/>
<rect x="86" y="407" width="3" height="4" fill="#fff"/>
<rect x="86" y="422" width="3" height="5" fill="#fff"/>
<rect x="92" y="407" width="3" height="4" fill="#fff"/>
<rect x="92" y="422" width="3" height="5" fill="#fff"/>
<rect x="97" y="407" width="4" height="4" fill="#fff"/>
<rect x="97" y="422" width="4" height="5" fill="#fff"/>
<rect x="103" y="407" width="4" height="4" fill="#fff"/>
<rect x="103" y="422" width="4" height="5" fill="#fff"/>
<rect x="109" y="407" width="4" height="4" fill="#fff"/>
<rect x="109" y="422" width="4" height="5" fill="#fff"/>
<rect x="115" y="407" width="3" height="4" fill="#fff"/>
<rect x="115" y="422" width="3" height="5" fill="#fff"/>
<rect x="121" y="407" width="3" height="4" fill="#fff"/>
<rect x="121" y="422" width="3" height="5" fill="#fff"/>
<rect x="48" y="414" width="71" height="5" fill="#fff"/>
<circle cx="127" cy="416.5" r="2" fill="#fff"/>
<rect x="132" y="404" width="85" height="24" fill="#000"/>
<rect x="135" y="407" width="3" height="4" fill="#fff"/>
<rect x="135" y="422" width="3" height="5" fill="#fff"/>
<rect x="141" y="407" width="3" height="4" fill="#fff"/>
<rect x="141" y="422" width="3" height="5" fill="#fff"/>
<rect x="146" y="407" width="4" height="4" fill="#fff"/>
<rect x="146" y="422" width="4" height="5" fill="#fff"/>
<rect x="152" y="407" width="4" height="4" fill="#fff"/>
<rect x="152" y="422" width="4" height="5" fill="#fff"/>
<rect x="158" y="407" width="4" height="4" fill="#fff"/>
<rect x="158" y="422" width="4" height="5" fill="#fff"/>
<rect x="164" y="407" width="3" height="4" fill="#fff"/>
<rect x="164" y="422" width="3" height="5" fill="#fff"/>
<rect x="170" y="407" width="3" height="4" fill="#fff"/>
<rect x="170" y="422" width="3" height="5" fill="#fff"/>
<rect x="176" y="407" width="3" height="4" fill="#fff"/>
<rect x="176" y="422" width="3" height="5" fill="#fff"/>
<rect x="182" y="407" width="3" height="4" fill="#fff"/>
<rect x="182" y="422" width="3" height="5" fill="#fff"/>
<rect x="187" y="407" width="4" height="4" fill="#fff"/>
<rect x="187" y="422" width="4" height="5" fill="#fff"/>
<rect x="193" y="407" width="4" height="4" fill="#fff"/>
<rect x="193" y="422" width="4" height="5" fill="#fff"/>
<rect x="199" y="407" width="4" height="4" fill="#fff"/>
<rect x="199" y="422" width="4" height="5" fill="#fff"/>
<rect x="205" y="407" width="3" height="4" fill="#fff"/>
<rect x="205" y="422" width="3" height="5" fill="#fff"/>
<rect x="211" y="407" width="3" height="4" fill="#fff"/>
<rect x="211" y="422" width="3" height="5" fill="#fff"/>
<rect x="138" y="414" width="71" height="5" fill="#fff"/>
<circle cx="217" cy="416.5" r="2" fill="#fff"/>
<rect x="219" y="404" width="84" height="24" fill="#000"/>
<rect x="222" y="407" width="3" height="4" fill="#fff"/>
<rect x="222" y="422" width="3" height="5" fill="#fff"/>
<rect x="228" y="407" width="3" height="4" fill="#fff"/>
<rect x="228" y="422" width="3" height="5" fill="#fff"/>
<rect x="234" y="407" width="3" height="4" fill="#fff"/>
<rect x="234" y="422" width="3" height="5" fill="#fff"/>
<rect x="239" y="407" width="4" height="4" fill="#fff"/>
<rect x="239" y="422" width="4" height="5" fill="#fff"/>
<rect x="245" y="407" width="4" height="4" fill="#fff"/>
<rect x="245" y="422" width="4" height="5" fill="#fff"/>
<rect x="251" y="407" width="3" height="4" fill="#fff"/>
<rect x="251" y="422" width="3" height="5" fill="#fff"/>
<rect x="257" y="407" width="3" height="4" fill="#fff"/>
<rect x="257" y="422" width="3" height="5" fill="#fff"/>
<rect x="263" y="407" width="3" height="4" fill="#fff"/>
<rect x="263" y="422" width="3" height="5" fill="#fff"/>
<rect x="269" y="407" width="3" height="4" fill="#fff"/>
<rect x="269" y="422" width="3" height="5" fill="#fff"/>
<rect x="274" y="407" width="4" height="4" fill="#fff"/>
<rect x="274" y="422" width="4" height="5" fill="#fff"/>
<rect x="280" y="407" width="4" height="4" fill="#fff"/>
<rect x="280" y="422" width="4" height="5" fill="#fff"/>
<rect x="286" y="407" width="4" height="4" fill="#fff"/>
<rect x="286" y="422" width="4" height="5" fill="#fff"/>
<rect x="292" y="407" width="3" height="4" fill="#fff"/>
<rect x="292" y="422" width="3" height="5" fill="#fff"/>
<rect x="298" y="407" width="3" height="4" fill="#fff"/>
<rect x="298" y="422" width="3" height="5" fill="#fff"/>
<rect x="225" y="414" width="70" height="5" fill="#fff"/>
<circle cx="303" cy="416.5" r="2" fill="#fff"/>
<rect x="42" y="430" width="85" height="24" fill="#000"/>
<rect x="45" y="433" width="3" height="4" fill="#fff"/>
<rect x="45" y="448" width="3" height="5" fill="#fff"/>
<rect x="51" y="433" width="3" height="4" fill="#fff"/>
<rect x="51" y="448" width="3" height="5" fill="#fff"/>
<rect x="56" y="433" width="4" height="4" fill="#fff"/>
<rect x="56" y="448" width="4" height="5" fill="#fff"/>
<rect x="62" y="433" width="4" height="4" fill="#fff"/>
<rect x="62" y="448" width="4" height="5" fill="#fff"/>
<rect x="68" y="433" width="4" height="4" fill="#fff"/>
<rect x="68" y="448" width="4" height="5" fill="#fff"/>
<rect x="74" y="433" width="3" height="4" fill="#fff"/>
<rect x="74" y="448" width="3" height="5" fill="#fff"/>
<rect x="80" y="433" width="3" height="4" fill="#fff"/>
<rect x="80" y="448" width="3" height="5" fill="#fff"/>
<rect x="86" y="433" width="3" height="4" fill="#fff"/>
<rect x="86" y="448" width="3" height="5" fill="#fff"/>
<rect x="92" y="433" width="3" height="4" fill="#fff"/>
<rect x="92" y="448" width="3" height="5" fill="#fff"/>
<rect x="97" y="433" width="4" height="4" fill="#fff"/>
<rect x="97" y="448" width="4" height="5" fill="#fff"/>
<rect x="103" y="433" width="4" height="4" fill="#fff"/>
<rect x="103" y="448" width="4" height="5" fill="#fff"/>
<rect x="109" y="433" width="4" height="4" fill="#fff"/>
<rect x="109" y="448" width="4" height="5" fill="#fff"/>
<rect x="115" y="433" width="3" height="4" fill="#fff"/>
<rect x="115" y="448" width="3" height="5" fill="#fff"/>
<rect x="121" y="433" width="3" height="4" fill="#fff"/>
<rect x="121" y="448" width="3" height="5" fill="#fff"/>
<rect x="48" y="440" width="71" height="5" fill="#fff"/>
<circle cx="127" cy="442.5" r="2" fill="#fff"/>
<rect x="132" y="430" width="85" height="24" fill="#000"/>
<rect x="135" y="433" width="3" height="4" fill="#fff"/>
<rect x="135" y="448" width="3" height="5" fill="#fff"/>
<rect x="141" y="433" width="3" height="4" fill="#fff"/>
<rect x="141" y="448" width="3" height="5" fill="#fff"/>
<rect x="146" y="433" width="4" height="4" fill="#fff"/>
<rect x="146" y="448" width="4" height="5" fill="#fff"/>
<rect x="152" y="433" width="4" height="4" fill="#fff"/>
<rect x="152" y="448" width="4" height="5" fill="#fff"/>
<rect x="158" y="433" width="4" height="4" fill="#fff"/>
<rect x="158" y="448" width="4" height="5" fill="#fff"/>
<rect x="164" y="433" width="3" height="4" fill="#fff"/>
<rect x="164" y="448" width="3" height="5" fill="#fff"/>
<rect x="170" y="433" width="3" height="4" fill="#fff"/>
<rect x="170" y="448" width="3" height="5" fill="#fff"/>
<rect x="176" y="433" width="3" height="4" fill="#fff"/>
<rect x="176" y="448" width="3" height="5" fill="#fff"/>
<rect x="182" y="433" width="3" height="4" fill="#fff"/>
<rect x="182" y="448" width="3" height="5" fill="#fff"/>
<rect x="187" y="433" width="4" height="4" fill="#fff"/>
<rect x="187" y="448" width="4" height="5" fill="#fff"/>
<rect x="193" y="433" width="4" height="4" fill="#fff"/>
<rect x="193" y="448" width="4" height="5" fill="#fff"/>
<rect x="199" y="433" width="4" height="4" fill="#fff"/>
<rect x="199" y="448" width="4" height="5" fill="#fff"/>
<rect x="205" y="433" width="3" height="4" fill="#fff"/>
<rect x="205" y="448" width="3" height="5" fill="#fff"/>
<rect x="211" y="433" width="3" height="4" fill="#fff"/>
<rect x="211" y="448" width="3" height="5" fill="#fff"/>
<rect x="138" y="440" width="71" height="5" fill="#fff"/>
<circle cx="217" cy="442.5" r="2" fill="#fff"/>
<rect x="219" y="430" width="84" height="24" fill="#000"/>
<rect x="222" y="433" width="3" height="4" fill="#fff"/>
<rect x="222" y="448" width="3" height="5" fill="#fff"/>
<rect x="228" y="433" width="3" height="4" fill="#fff"/>
<rect x="228" y="448" width="3" height="5" fill="#fff"/>
<rect x="234" y="433" width="3" height="4" fill="#fff"/>
<rect x="234" y="448" width="3" height="5" fill="#fff"/>
<rect x="239" y="433" width="4" height="4" fill="#fff"/>
<rect x="239" y="448" width="4" height="5" fill="#fff"/>
<rect x="245" y="433" width="4" height="4" fill="#fff"/>
<rect x="245" y="448" width="4" height="5" fill="#fff"/>
<rect x="251" y="433" width="3" height="4" fill="#fff"/>
<rect x="251" y="448" width="3" height="5" fill="#fff"/>
<rect x="257" y="433" width="3" height="4" fill="#fff"/>
<rect x="257" y="448" width="3" height="5" fill="#fff"/>
<rect x="263" y="433" width="3" height="4" fill="#fff"/>
<rect x="263" y="448" width="3" height="5" fill="#fff"/>
<rect x="269" y="433" width="3" height="4" fill="#fff"/>
<rect x="269" y="448" width="3" height="5" fill="#fff"/>
<rect x="274" y="433" width="4" height="4" fill="#fff"/>
<rect x="274" y="448" width="4" height="5" fill="#fff"/>
<rect x="280" y="433" width="4" height="4" fill="#fff"/>
<rect x="280" y="448" width="4" height="5" fill="#fff"/>
<rect x="286" y="433" width="4" height="4" fill="#fff"/>
<rect x="286" y="448" width="4" height="5" fill="#fff"/>
<rect x="292" y="433" width="3" height="4" fill="#fff"/>
<rect x="292" y="448" width="3" height="5" fill="#fff"/>
<rect x="298" y="433" width="3" height="4" fill="#fff"/>
<rect x="298" y="448" width="3" height="5" fill="#fff"/>
<rect x="225" y="440" width="70" height="5" fill="#fff"/>
<circle cx="303" cy="442.5" r="2" fill="#fff"/>
<rect x="42" y="456" width="85" height="24" fill="#000"/>
<rect x="45" y="459" width="3" height="4" fill="#fff"/>
<rect x="45" y="474" width="3" height="5" fill="#fff"/>
<rect x="51" y="459" width="3" height="4" fill="#fff"/>
<rect x="51" y="474" width="3" height="5" fill="#fff"/>
<rect x="56" y="459" width="4" height="4" fill="#fff"/>
<rect x="56" y="474" width="4" height="5" fill="#fff"/>
<rect x="62" y="459" width="4" height="4" fill="#fff"/>
<rect x="62" y="474" width="4" height="5" fill="#fff"/>
<rect x="68" y="459" width="4" height="4" fill="#fff"/>
<rect x="68" y="474" width="4" height="5" fill="#fff"/>
<rect x="74" y="459" width="3" height="4" fill="#fff"/>
<rect x="74" y="474" width="3" height="5" fill="#fff"/>
<rect x="80" y="459" width="3" height="4" fill="#fff"/>
<rect x="80" y="474" width="3" height="5" fill="#fff"/>
<rect x="86" y="459" width="3" height="4" fill="#fff"/>
<rect x="86" y="474" width="3" height="5" fill="#fff"/>
<rect x="92" y="459" width="3" height="4" fill="#fff"/>
<rect x="92" y="474" width="3" height="5" fill="#fff"/>
<rect x="97" y="459" width="4" height="4" fill="#fff"/>
<rect x="97" y="474" width="4" height="5" fill="#fff"/>
<rect x="103" y="459" width="4" height="4" fill="#fff"/>
<rect x="103" y="474" width="4" height="5" fill="#fff"/>
<rect x="109" y="459" width="4" height="4" fill="#fff"/>
<rect x="109" y="474" width="4" height="5" fill="#fff"/>
<rect x="115" y="459" width="3" height="4" fill="#fff"/>
<rect x="115" y="474" width="3" height="5" fill="#fff"/>
<rect x="121" y="459" width="3" height="4" fill="#fff"/>
<rect x="121" y="474" width="3" height="5" fill="#fff"/>
<rect x="48" y="466" width="71" height="5" fill="#fff"/>
<circle cx="127" cy="468.5" r="2" fill="#fff"/>
<rect x="132" y="456" width="85" height="24" fill="#000"/>
<rect x="135" y="459" width="3" height="4" fill="#fff"/>
<rect x="135" y="474" width="3" height="5" fill="#fff"/>
<rect x="141" y="459" width="3" height="4" fill="#fff"/>
<rect x="141" y="474" width="3" height="5" fill="#fff"/>
<rect x="146" y="459" width="4" height="4" fill="#fff"/>
<rect x="146" y="474" width="4" height="5" fill="#fff"/>
<rect x="152" y="459" width="4" height="4" fill="#fff"/>
<rect x="152" y="474" width="4" height="5" fill="#fff"/>
<rect x="158" y="459" width="4" height="4" fill="#fff"/>
<rect x="158" y="474" width="4" height="5" fill="#fff"/>
<rect x="164" y="459" width="3" height="4" fill="#fff"/>
<rect x="164" y="474" width="3" height="5" fill="#fff"/>
<rect x="170" y="459" width="3" height="4" fill="#fff"/>
<rect x="170" y="474" width="3" height="5" fill="#fff"/>
<rect x="176" y="459" width="3" height="4" fill="#fff"/>
<rect x="176" y="474" width="3" height="5" fill="#fff"/>
<rect x="182" y="459" width="3" height="4" fill="#fff"/>
<rect x="182" y="474" width="3" height="5" fill="#fff"/>
<rect x="187" y="459" width="4" height="4" fill="#fff"/>
<rect x="187" y="474" width="4" height="5" fill="#fff"/>
<rect x="193" y="459" width="4" height="4" fill="#fff"/>
<rect x="193" y="474" width="4" height="5" fill="#fff"/>
<rect x="199" y="459" width="4" height="4" fill="#fff"/>
<rect x="199" y="474" width="4" height="5" fill="#fff"/>
<rect x="205" y="459" width="3" height="4" fill="#fff"/>
<rect x="205" y="474" width="3" height="5" fill="#fff"/>
<rect x="211" y="459" width="3" height="4" fill="#fff"/>
<rect x="211" y="474" width="3" height="5" fill="#fff"/>
<rect x="138" y="466" width="71" height="5" fill="#fff"/>
<circle cx="217" cy="468.5" r="2" fill="#fff"/>
<rect x="219" y="456" width="84" height="24" fill="#000"/>
<rect x="222" y="459" width="3" height="4" fill="#fff"/>
<rect x="222" y="474" width="3" height="5" fill="#fff"/>
<rect x="228" y="459" width="3" height="4" fill="#fff"/>
<rect x="228" y="474" width="3" height="5" fill="#fff"/>
<rect x="234" y="459" width="3" height="4" fill="#fff"/>
<rect x="234" y="474" width="3" height="5" fill="#fff"/>
<rect x="239" y="459" width="4" height="4" fill="#fff"/>
<rect x="239" y="474" width="4" height="5" fill="#fff"/>
<rect x="245" y="459" width="4" height="4" fill="#fff"/>
<rect x="245" y="474" width="4" height="5" fill="#fff"/>
<rect x="251" y="459" width="3" height="4" fill="#fff"/>
<rect x="251" y="474" width="3" height="5" fill="#fff"/>
<rect x="257" y="459" width="3" height="4" fill="#fff"/>
<rect x="257" y="474" width="3" height="5" fill="#fff"/>
<rect x="263" y="459" width="3" height="4" fill="#fff"/>
<rect x="263" y="474" width="3" height="5" fill="#fff"/>
<rect x="269" y="459" width="3" height="4" fill="#fff"/>
<rect x="269" y="474" width="3" height="5" fill="#fff"/>
<rect x="274" y="459" width="4" height="4" fill="#fff"/>
<rect x="274" y="474" width="4" height="5" fill="#fff"/>
<rect x="280" y="459" width="4" height="4" fill="#fff"/>
<rect x="280" y="474" width="4" height="5" fill="#fff"/>
<rect x="286" y="459" width="4" height="4" fill="#fff"/>
<rect x="286" y="474" width="4" height="5" fill="#fff"/>
<rect x="292" y="459" width="3" height="4" fill="#fff"/>
<rect x="292" y="474" width="3" height="5" fill="#fff"/>
<rect x="298" y="459" width="3" height="4" fill="#fff"/>
<rect x="298" y="474" width="3" height="5" fill="#fff"/>
<rect x="225" y="466" width="70" height="5" fill="#fff"/>
<circle cx="303" cy="468.5" r="2" fill="#fff"/>
<path d="M303,375.5C308,375.5 307.5,379 307.5,384V420C307.5,423 308,424.5 311.5,426C308,427.5 307.5,429 307.5,432V472C307.5,478 308,481.5 303,481.5" fill="none" stroke="#000" stroke-width="1"/>
<rect x="600" y="357" width="126" height="42" fill="#000"/>
<line x1="603" y1="397.5" x2="726" y2="397.5" stroke="#fff" stroke-width="1" stroke-dasharray="3 3"/>
<ellipse cx="727" cy="377.7" rx="3" ry="5.5" fill="#fff"/>
<rect x="726" y="350" width="10" height="60" fill="#fff"/>
<rect x="649" y="371" width="28" height="14" fill="#fff"/>
<text transform="translate(663.475,381) scale(0.78,1)" font-size="14" letter-spacing="2.5" text-anchor="middle" fill="#000">KBD</text>
<rect x="553" y="409" width="88" height="41" fill="#000"/>
<line x1="555" y1="447.5" x2="641" y2="447.5" stroke="#fff" stroke-width="1" stroke-dasharray="3 3"/>
<rect x="639" y="423" width="2" height="12" fill="#fff"/>
<rect x="577" y="422" width="40" height="14" fill="#fff"/>
<text transform="translate(596.475,433) scale(0.78,1)" font-size="14" letter-spacing="2.5" text-anchor="middle" fill="#000">BIOS</text>
<path d="M754.5,359.5H776.5C778.5,362 779,366 777.5,369C776.5,373 777,377 778.5,380C777,384 776.5,388 777.5,391C779,394 778.5,398 776.5,399.5H754.5C752.5,397 752,393 753.5,390C754.5,386 754,382 752.5,379.5C754,376 754.5,372 753.5,369C752,366 752.5,362 754.5,359.5Z" fill="#fff" stroke="#000" stroke-width="1"/>
<path d="M756,433H780V428H783V426H786V477H783V474H780V470H756V463H753V439H756Z" fill="#000" stroke="none" stroke-width="1"/>
<rect x="749" y="441" width="5" height="9" fill="#000"/>
<rect x="750" y="442" width="3" height="7" fill="#fff"/>
<rect x="749" y="452" width="5" height="9" fill="#000"/>
<rect x="750" y="453" width="3" height="7" fill="#fff"/>
<rect x="754" y="449" width="2" height="5" fill="#fff"/>
<rect x="607" y="463" width="112" height="24" fill="#000"/>
<rect x="608" y="464" width="110" height="22" fill="#fff"/>
<rect x="610" y="466" width="4" height="6" fill="#000"/>
<rect x="608" y="468" width="8" height="2" fill="#000"/>
<rect x="608" y="473" width="7" height="3" fill="#000"/>
<rect x="619" y="466" width="4" height="6" fill="#000"/>
<rect x="617" y="468" width="8" height="2" fill="#000"/>
<rect x="617" y="473" width="7" height="3" fill="#000"/>
<rect x="628" y="466" width="4" height="6" fill="#000"/>
<rect x="626" y="468" width="8" height="2" fill="#000"/>
<rect x="626" y="473" width="7" height="3" fill="#000"/>
<rect x="637" y="466" width="4" height="6" fill="#000"/>
<rect x="635" y="468" width="8" height="2" fill="#000"/>
<rect x="635" y="473" width="7" height="3" fill="#000"/>
<rect x="646" y="466" width="4" height="6" fill="#000"/>
<rect x="644" y="468" width="8" height="2" fill="#000"/>
<rect x="644" y="473" width="7" height="3" fill="#000"/>
<rect x="656" y="466" width="4" height="6" fill="#000"/>
<rect x="654" y="468" width="8" height="2" fill="#000"/>
<rect x="654" y="473" width="7" height="3" fill="#000"/>
<rect x="665" y="466" width="4" height="6" fill="#000"/>
<rect x="663" y="468" width="8" height="2" fill="#000"/>
<rect x="663" y="473" width="7" height="3" fill="#000"/>
<rect x="674" y="466" width="4" height="6" fill="#000"/>
<rect x="672" y="468" width="8" height="2" fill="#000"/>
<rect x="672" y="473" width="7" height="3" fill="#000"/>
<rect x="683" y="466" width="4" height="6" fill="#000"/>
<rect x="681" y="468" width="8" height="2" fill="#000"/>
<rect x="681" y="473" width="7" height="3" fill="#000"/>
<rect x="692" y="466" width="4" height="6" fill="#000"/>
<rect x="690" y="468" width="8" height="2" fill="#000"/>
<rect x="690" y="473" width="7" height="3" fill="#000"/>
<rect x="702" y="466" width="4" height="6" fill="#000"/>
<rect x="700" y="468" width="8" height="2" fill="#000"/>
<rect x="700" y="473" width="7" height="3" fill="#000"/>
<rect x="711" y="466" width="4" height="6" fill="#000"/>
<rect x="709" y="468" width="8" height="2" fill="#000"/>
<rect x="709" y="473" width="7" height="3" fill="#000"/>
<rect x="608" y="471" width="110" height="1" fill="#000"/>
<rect x="612" y="477" width="8" height="8" fill="#000"/>
<rect x="613" y="478" width="6" height="6" fill="#fff"/>
<rect x="622" y="477" width="8" height="8" fill="#000"/>
<rect x="623" y="478" width="6" height="6" fill="#fff"/>
<rect x="631" y="477" width="8" height="8" fill="#000"/>
<rect x="632" y="478" width="6" height="6" fill="#fff"/>
<rect x="641" y="477" width="8" height="8" fill="#000"/>
<rect x="642" y="478" width="6" height="6" fill="#fff"/>
<rect x="650" y="477" width="8" height="8" fill="#000"/>
<rect x="651" y="478" width="6" height="6" fill="#fff"/>
<rect x="660" y="477" width="8" height="8" fill="#000"/>
<rect x="661" y="478" width="6" height="6" fill="#fff"/>
<rect x="669" y="477" width="8" height="8" fill="#000"/>
<rect x="670" y="478" width="6" height="6" fill="#fff"/>
<rect x="679" y="477" width="8" height="8" fill="#000"/>
<rect x="680" y="478" width="6" height="6" fill="#fff"/>
<rect x="688" y="477" width="8" height="8" fill="#000"/>
<rect x="689" y="478" width="6" height="6" fill="#fff"/>
<rect x="698" y="477" width="8" height="8" fill="#000"/>
<rect x="699" y="478" width="6" height="6" fill="#fff"/>
<rect x="707" y="477" width="8" height="8" fill="#000"/>
<rect x="708" y="478" width="6" height="6" fill="#fff"/>
<rect x="607" y="477" width="3" height="8" fill="#000"/>
<rect x="608" y="479" width="1" height="1" fill="#fff"/>
<rect x="608" y="482" width="1" height="1" fill="#fff"/>
<rect x="716" y="477" width="3" height="8" fill="#000"/>
<rect x="717" y="479" width="1" height="1" fill="#fff"/>
<rect x="717" y="482" width="1" height="1" fill="#fff"/>
<rect x="17" y="72" width="7" height="25" fill="#000"/>
<rect x="18" y="73" width="5" height="23" fill="#fff"/>
<rect x="19" y="74" width="4" height="4" fill="#000"/>
<rect x="20" y="75" width="2" height="2" fill="#fff"/>
<rect x="19" y="79" width="5" height="4" fill="#000"/>
<rect x="19" y="85" width="5" height="4" fill="#000"/>
<rect x="19" y="91" width="5" height="4" fill="#000"/>
<rect x="29" y="72" width="7" height="31" fill="#000"/>
<rect x="30" y="73" width="5" height="29" fill="#fff"/>
<rect x="31" y="74" width="4" height="4" fill="#000"/>
<rect x="32" y="75" width="2" height="2" fill="#fff"/>
<rect x="31" y="79" width="5" height="4" fill="#000"/>
<rect x="31" y="85" width="5" height="4" fill="#000"/>
<rect x="31" y="91" width="5" height="4" fill="#000"/>
<rect x="31" y="97" width="5" height="4" fill="#000"/>
<rect x="17" y="107" width="7" height="13" fill="#000"/>
<rect x="18" y="108" width="5" height="11" fill="#fff"/>
<rect x="19" y="107" width="5" height="7" fill="#000"/>
<rect x="17" y="125" width="7" height="14" fill="#000"/>
<rect x="18" y="126" width="5" height="12" fill="#fff"/>
<rect x="19" y="127" width="4" height="4" fill="#000"/>
<rect x="19" y="133" width="4" height="4" fill="#000"/>
<rect x="29" y="125" width="7" height="14" fill="#000"/>
<rect x="30" y="126" width="5" height="12" fill="#fff"/>
<rect x="30" y="127" width="4" height="4" fill="#000"/>
<rect x="30" y="133" width="4" height="4" fill="#000"/>
<rect x="737" y="366" width="7" height="26" fill="#000"/>
<rect x="738" y="367" width="5" height="24" fill="#fff"/>
<rect x="739" y="368" width="3" height="4" fill="#000"/>
<rect x="740" y="369" width="1" height="2" fill="#fff"/>
<rect x="738" y="374" width="5" height="5" fill="#000"/>
<rect x="738" y="380" width="5" height="5" fill="#000"/>
<rect x="738" y="386" width="5" height="5" fill="#000"/>
<rect x="23" y="231" width="13" height="6" fill="#000"/>
<rect x="29" y="232" width="1" height="4" fill="#fff"/>
<rect x="34" y="232" width="1" height="4" fill="#fff"/>
<rect x="569" y="358" width="19" height="7" fill="#000"/>
<rect x="570" y="359" width="17" height="1" fill="#fff"/>
<rect x="570" y="359" width="1" height="5" fill="#fff"/>
<rect x="572" y="361" width="3" height="2" fill="#fff"/>
<rect x="576" y="360" width="1" height="4" fill="#fff"/>
<rect x="582" y="360" width="1" height="4" fill="#fff"/>
<rect x="164" y="225" width="36" height="14" fill="#000"/>
<rect x="176" y="225" width="24" height="19" fill="#000"/>
<rect x="165" y="226" width="5" height="1" fill="#fff"/>
<rect x="171" y="226" width="4" height="1" fill="#fff"/>
<rect x="165" y="232" width="5" height="1" fill="#fff"/>
<rect x="171" y="232" width="4" height="1" fill="#fff"/>
<rect x="165" y="237" width="5" height="1" fill="#fff"/>
<rect x="171" y="237" width="4" height="1" fill="#fff"/>
<rect x="175" y="226" width="1" height="12" fill="#fff"/>
<rect x="177" y="226" width="4" height="1" fill="#fff"/>
<rect x="178" y="228" width="2" height="3" fill="#fff"/>
<rect x="177" y="232" width="4" height="1" fill="#fff"/>
<rect x="177" y="237" width="4" height="2" fill="#fff"/>
<rect x="182" y="226" width="5" height="1" fill="#fff"/>
<rect x="183" y="228" width="3" height="3" fill="#fff"/>
<rect x="182" y="232" width="5" height="1" fill="#fff"/>
<rect x="182" y="237" width="5" height="2" fill="#fff"/>
<rect x="188" y="226" width="5" height="1" fill="#fff"/>
<rect x="189" y="228" width="3" height="3" fill="#fff"/>
<rect x="188" y="232" width="5" height="1" fill="#fff"/>
<rect x="188" y="237" width="5" height="2" fill="#fff"/>
<rect x="194" y="226" width="4" height="1" fill="#fff"/>
<rect x="195" y="228" width="2" height="3" fill="#fff"/>
<rect x="194" y="232" width="4" height="1" fill="#fff"/>
<rect x="194" y="237" width="4" height="2" fill="#fff"/>
<rect x="198" y="226" width="1" height="16" fill="#fff"/>
<rect x="344" y="211" width="19" height="7" fill="#000"/>
<rect x="349" y="211" width="14" height="19" fill="#000"/>
<rect x="345" y="212" width="1" height="5" fill="#fff"/>
<rect x="347" y="213" width="2" height="3" fill="#fff"/>
<rect x="350" y="212" width="1" height="5" fill="#fff"/>
<rect x="350" y="219" width="1" height="4" fill="#fff"/>
<rect x="350" y="225" width="1" height="3" fill="#fff"/>
<rect x="356" y="212" width="1" height="5" fill="#fff"/>
<rect x="356" y="219" width="2" height="4" fill="#fff"/>
<rect x="356" y="225" width="1" height="3" fill="#fff"/>
<rect x="361" y="219" width="1" height="4" fill="#fff"/>
<rect x="361" y="225" width="1" height="3" fill="#fff"/>
<rect x="350" y="228" width="12" height="1" fill="#fff"/>
<rect x="356" y="418" width="19" height="24" fill="#000"/>
<rect x="357" y="419" width="6" height="5" fill="#fff"/>
<rect x="359" y="420" width="3" height="3" fill="#000"/>
<rect x="360" y="421" width="1" height="1" fill="#fff"/>
<rect x="357" y="425" width="6" height="5" fill="#fff"/>
<rect x="359" y="426" width="3" height="3" fill="#000"/>
<rect x="360" y="427" width="1" height="1" fill="#fff"/>
<rect x="357" y="431" width="6" height="5" fill="#fff"/>
<rect x="359" y="432" width="3" height="3" fill="#000"/>
<rect x="360" y="433" width="1" height="1" fill="#fff"/>
<rect x="357" y="437" width="6" height="5" fill="#fff"/>
<rect x="359" y="438" width="3" height="3" fill="#000"/>
<rect x="360" y="439" width="1" height="1" fill="#fff"/>
<rect x="369" y="419" width="1" height="22" fill="#fff"/>
<rect x="363" y="424" width="11" height="1" fill="#fff"/>
<rect x="363" y="430" width="11" height="1" fill="#fff"/>
<path d="M32,64L36,66L24.5,76L22,73.5Z" fill="#000" stroke="none" stroke-width="1"/>
<path d="M52,79L44,83.5L36,84V86.5L44,87L52,91Z" fill="#000" stroke="none" stroke-width="1"/>
<path d="M41,106L32,111.5L24,112.5V115L32,115.5L41,121Z" fill="#000" stroke="none" stroke-width="1"/>
<path d="M51,126L43,130.5L36,131.5V133.5L43,134.5L51,138.5Z" fill="#000" stroke="none" stroke-width="1"/>
<path d="M20,138L23,138L31,147L28,147.5Z" fill="#000" stroke="none" stroke-width="1"/>
<path d="M28,237H30V242H31V249L32,254H26L27,249V242H28Z" fill="#000" stroke="none" stroke-width="1"/>
<rect x="29" y="250" width="1" height="4" fill="#fff"/>
<path d="M164,216L167,216L175,225L172,225Z" fill="#000" stroke="none" stroke-width="1"/>
<path d="M197,216L200,216L193,225L190,225Z" fill="#000" stroke="none" stroke-width="1"/>
<path d="M149,226.5L155,230.5L164,231.5V233.5L155,234.5L149,238.5Z" fill="#000" stroke="none" stroke-width="1"/>
<path d="M215,230L209,233.5L200,234.5V236.5L209,237.5L215,240Z" fill="#000" stroke="none" stroke-width="1"/>
<path d="M169,254L172,254L181,244L178,244Z" fill="#000" stroke="none" stroke-width="1"/>
<path d="M198,253L201,253L193,244L190,244Z" fill="#000" stroke="none" stroke-width="1"/>
<path d="M371,202L374,204.5L364,214L361,212Z" fill="#000" stroke="none" stroke-width="1"/>
<path d="M378,215.5L372,219L363,219.5V222L372,222.5L378,226Z" fill="#000" stroke="none" stroke-width="1"/>
<path d="M355,230H358L359,247H353Z" fill="#000" stroke="none" stroke-width="1"/>
<path d="M362,401H369L366.5,418H364Z" fill="#000" stroke="none" stroke-width="1"/>
<path d="M364.5,442H367L370.5,458H363Z" fill="#000" stroke="none" stroke-width="1"/>
<path d="M390,422.5L384,426L375,426.5V428.5L384,429.5L390,432.5Z" fill="#000" stroke="none" stroke-width="1"/>
<path d="M374,430.5C380,432 382.5,435 382.5,441" fill="none" stroke="#000" stroke-width="2.4"/>
<path d="M572,373L575,376L584,365L580,365Z" fill="#000" stroke="none" stroke-width="1"/>
<path d="M739,392H742L745,408H736Z" fill="#000" stroke="none" stroke-width="1"/>
<rect x="31" y="49" width="25" height="17.5" rx="2" fill="#000"/>
<rect x="33" y="51" width="21" height="13.5" rx="1" fill="#fff"/>
<text transform="translate(43.475,61.962) scale(0.78,1)" font-size="14" letter-spacing="2.5" text-anchor="middle" fill="#000">J1</text>
<rect x="51" y="77" width="24" height="16" rx="2" fill="#000"/>
<rect x="53" y="79" width="20" height="12" rx="1" fill="#fff"/>
<text transform="translate(61.975,88.712) scale(0.78,1)" font-size="14" letter-spacing="2.5" text-anchor="middle" fill="#000">J2</text>
<rect x="39.5" y="104.5" width="24.5" height="17.5" rx="2" fill="#000"/>
<rect x="41.5" y="106.5" width="20.5" height="13.5" rx="1" fill="#fff"/>
<text transform="translate(51.025,117.862) scale(0.78,1)" font-size="14" letter-spacing="2.5" text-anchor="middle" fill="#000">J3</text>
<rect x="50.5" y="125" width="23.5" height="15" rx="2" fill="#000"/>
<rect x="52.5" y="127" width="19.5" height="11" rx="1" fill="#fff"/>
<text transform="translate(61.975,136.912) scale(0.78,1)" font-size="14" letter-spacing="2.5" text-anchor="middle" fill="#000">J5</text>
<rect x="28" y="145" width="23" height="17" rx="2" fill="#000"/>
<rect x="30" y="147" width="19" height="13" rx="1" fill="#fff"/>
<text transform="translate(39.825,158.012) scale(0.78,1)" font-size="14" letter-spacing="2.5" text-anchor="middle" fill="#000">J4</text>
<rect x="127.5" y="73.3" width="59" height="18.3" rx="2" fill="#000"/>
<rect x="129" y="75.3" width="54.8" height="14.5" rx="0.5" fill="#fff"/>
<text transform="translate(157.575,86.8) scale(0.78,1)" font-size="14" letter-spacing="2.5" text-anchor="middle" fill="#000">BANK 0</text>
<rect x="127.5" y="154" width="59" height="18" rx="2" fill="#000"/>
<rect x="129" y="156" width="54.8" height="13.7" rx="0.5" fill="#fff"/>
<text transform="translate(157.575,166.8) scale(0.78,1)" font-size="14" letter-spacing="2.5" text-anchor="middle" fill="#000">BANK 1</text>
<rect x="197" y="22" width="34" height="8" fill="#000"/>
<rect x="199" y="19" width="29" height="14" rx="2" fill="#fff"/>
<text transform="translate(213.475,29.2) scale(0.78,1)" font-size="14" letter-spacing="2.5" text-anchor="middle" fill="#000">SL1</text>
<rect x="132" y="201" width="35" height="18" rx="2" fill="#000"/>
<rect x="134" y="203" width="31" height="14" rx="1" fill="#fff"/>
<text transform="translate(149.475,214.212) scale(0.78,1)" font-size="14" letter-spacing="2.5" text-anchor="middle" fill="#000">JP3</text>
<rect x="197" y="201" width="35" height="18" rx="2" fill="#000"/>
<rect x="199" y="203" width="31" height="14" rx="1" fill="#fff"/>
<text transform="translate(214.475,214.212) scale(0.78,1)" font-size="14" letter-spacing="2.5" text-anchor="middle" fill="#000">JPB</text>
<rect x="114" y="223" width="36" height="18" rx="2" fill="#000"/>
<rect x="116" y="225" width="32" height="14" rx="1" fill="#fff"/>
<text transform="translate(131.975,236.212) scale(0.78,1)" font-size="14" letter-spacing="2.5" text-anchor="middle" fill="#000">JP2</text>
<rect x="214" y="226" width="36" height="18" rx="2" fill="#000"/>
<rect x="216" y="228" width="32" height="14" rx="1" fill="#fff"/>
<text transform="translate(231.975,239.212) scale(0.78,1)" font-size="14" letter-spacing="2.5" text-anchor="middle" fill="#000">JPA</text>
<rect x="138" y="251" width="34" height="19" rx="2" fill="#000"/>
<rect x="140" y="253" width="30" height="15" rx="1" fill="#fff"/>
<text transform="translate(154.975,263.712) scale(0.78,1)" font-size="14" letter-spacing="2.5" text-anchor="middle" fill="#000">JP4</text>
<rect x="198" y="251" width="34" height="18" rx="2" fill="#000"/>
<rect x="200" y="253" width="30" height="14" rx="1" fill="#fff"/>
<text transform="translate(214.975,264.212) scale(0.78,1)" font-size="14" letter-spacing="2.5" text-anchor="middle" fill="#000">JP5</text>
<rect x="13" y="253" width="34" height="19" rx="3" fill="#000"/>
<rect x="15" y="255" width="29.3" height="15" rx="1.5" fill="#fff"/>
<text transform="translate(28.025,265.8) scale(0.78,1)" font-size="14" letter-spacing="2.5" text-anchor="middle" fill="#000">JP1</text>
<rect x="370" y="187" width="42" height="19" rx="2" fill="#000"/>
<rect x="372" y="189" width="38" height="15" rx="1" fill="#fff"/>
<text transform="translate(390.975,200.712) scale(0.78,1)" font-size="14" letter-spacing="2.5" text-anchor="middle" fill="#000">JP10</text>
<rect x="377" y="211" width="42" height="19" rx="2" fill="#000"/>
<rect x="379" y="213" width="38" height="15" rx="1" fill="#fff"/>
<text transform="translate(397.975,224.712) scale(0.78,1)" font-size="14" letter-spacing="2.5" text-anchor="middle" fill="#000">JP11</text>
<rect x="336" y="246" width="43" height="19" rx="2" fill="#000"/>
<rect x="338" y="248" width="39" height="15" rx="1" fill="#fff"/>
<text transform="translate(357.475,259.712) scale(0.78,1)" font-size="14" letter-spacing="2.5" text-anchor="middle" fill="#000">JP12</text>
<rect x="84" y="306.7" width="33" height="19.3" rx="4" fill="#000"/>
<rect x="86" y="309.7" width="29.3" height="14.3" rx="2.5" fill="#fff"/>
<text transform="translate(101.075,322.7) scale(0.78,1)" font-size="14" letter-spacing="2.5" text-anchor="middle" fill="#000">NPU</text>
<rect x="200" y="304.7" width="33" height="19.3" rx="4" fill="#000"/>
<rect x="203" y="307.7" width="28.3" height="14.3" rx="2.5" fill="#fff"/>
<text transform="translate(217.475,320.7) scale(0.78,1)" font-size="14" letter-spacing="2.5" text-anchor="middle" fill="#000">CPU</text>
<rect x="349.5" y="383" width="33.5" height="19" rx="4" fill="#000"/>
<rect x="352.3" y="385.8" width="28.7" height="14.2" rx="2.5" fill="#fff"/>
<text transform="translate(366.875,397) scale(0.78,1)" font-size="14" letter-spacing="2.5" text-anchor="middle" fill="#000">JP6</text>
<rect x="389" y="418" width="36" height="18.5" rx="4" fill="#000"/>
<rect x="391.8" y="420.5" width="31.4" height="14" rx="2.5" fill="#fff"/>
<text transform="translate(407.225,431) scale(0.78,1)" font-size="14" letter-spacing="2.5" text-anchor="middle" fill="#000">JP7</text>
<rect x="381" y="437.8" width="34.7" height="19" rx="4" fill="#000"/>
<rect x="383.6" y="440.3" width="29.1" height="13.7" rx="2.5" fill="#fff"/>
<text transform="translate(398.725,451) scale(0.78,1)" font-size="14" letter-spacing="2.5" text-anchor="middle" fill="#000">JP8</text>
<rect x="350" y="457.4" width="34" height="18.6" rx="4" fill="#000"/>
<rect x="352.6" y="460" width="28.9" height="13" rx="2.5" fill="#fff"/>
<text transform="translate(365.675,469.7) scale(0.78,1)" font-size="14" letter-spacing="2.5" text-anchor="middle" fill="#000">JP9</text>
<rect x="312" y="416" width="33" height="18.7" rx="4" fill="#000"/>
<rect x="315" y="418.6" width="28.3" height="14.1" rx="2.5" fill="#fff"/>
<text transform="translate(328.275,430) scale(0.78,1)" font-size="14" letter-spacing="2.5" text-anchor="middle" fill="#000">TAG</text>
<rect x="243" y="379" width="37" height="22" fill="#000"/>
<rect x="245.5" y="380.5" width="32" height="19" rx="2" fill="none" stroke="#fff" stroke-width="1" stroke-dasharray="3 2.2"/>
<rect x="245" y="384" width="33" height="12" fill="#000"/>
<rect x="247" y="383" width="29" height="14" rx="2.5" fill="#fff"/>
<text transform="translate(263.475,394) scale(0.78,1)" font-size="14" letter-spacing="2.5" text-anchor="middle" fill="#000">U15</text>
<rect x="243" y="405" width="37" height="21.5" fill="#000"/>
<rect x="245.5" y="406.5" width="32" height="18.5" rx="2" fill="none" stroke="#fff" stroke-width="1" stroke-dasharray="3 2.2"/>
<rect x="245" y="410" width="33" height="11.5" fill="#000"/>
<rect x="247" y="409" width="29" height="13.5" rx="2.5" fill="#fff"/>
<text transform="translate(261.475,420) scale(0.78,1)" font-size="14" letter-spacing="2.5" text-anchor="middle" fill="#000">U16</text>
<rect x="243" y="430" width="37" height="22.5" fill="#000"/>
<rect x="245.5" y="431.5" width="32" height="19.5" rx="2" fill="none" stroke="#fff" stroke-width="1" stroke-dasharray="3 2.2"/>
<rect x="245" y="435" width="33" height="12.5" fill="#000"/>
<rect x="247" y="434" width="29" height="14.5" rx="2.5" fill="#fff"/>
<text transform="translate(261.375,446) scale(0.78,1)" font-size="14" letter-spacing="2.5" text-anchor="middle" fill="#000">U17</text>
<rect x="243" y="456" width="37" height="23" fill="#000"/>
<rect x="245.5" y="457.5" width="32" height="20" rx="2" fill="none" stroke="#fff" stroke-width="1" stroke-dasharray="3 2.2"/>
<rect x="245" y="461" width="33" height="13" fill="#000"/>
<rect x="247" y="460" width="29" height="15" rx="2.5" fill="#fff"/>
<text transform="translate(261.475,472) scale(0.78,1)" font-size="14" letter-spacing="2.5" text-anchor="middle" fill="#000">U18</text>
<rect x="104.5" y="420.5" width="50.5" height="16.5" rx="1" fill="#000"/>
<rect x="107" y="422" width="46" height="13.5" rx="0" fill="#fff"/>
<text transform="translate(129.875,431.7) scale(0.95,1)" font-size="12" letter-spacing="1" text-anchor="middle" fill="#000">CACHE</text>
<rect x="533" y="372" width="42" height="18.7" rx="3" fill="#000"/>
<rect x="535.8" y="374.8" width="37.4" height="13.9" rx="1.5" fill="#fff"/>
<text transform="translate(553.925,384.8) scale(0.78,1)" font-size="14" letter-spacing="2.5" text-anchor="middle" fill="#000">JP17</text>
<rect x="728" y="408" width="26" height="17.7" rx="3" fill="#000"/>
<rect x="730.2" y="410.4" width="21.6" height="13.2" rx="1.5" fill="#fff"/>
<text transform="translate(741.075,420.9) scale(0.78,1)" font-size="14" letter-spacing="2.5" text-anchor="middle" fill="#000">J6</text>
<path d="M53,82L47,85.3L53,88.5Z" fill="#fff" stroke="none" stroke-width="1"/>
<path d="M42,109L35,113.6L42,118Z" fill="#fff" stroke="none" stroke-width="1"/>
<path d="M52,129L46,132.5L52,136Z" fill="#fff" stroke="none" stroke-width="1"/>
<path d="M148,229L153,232.5L148,236Z" fill="#fff" stroke="none" stroke-width="1"/>
<path d="M216,232.5L211,235.5L216,238Z" fill="#fff" stroke="none" stroke-width="1"/>
<path d="M379,218L374,220.8L379,223.5Z" fill="#fff" stroke="none" stroke-width="1"/>
<path d="M391,425L386,427.7L391,430.5Z" fill="#fff" stroke="none" stroke-width="1"/>
<path d="M364.3,400L366.8,400L365.6,408Z" fill="#fff" stroke="none" stroke-width="1"/>
<path d="M365.5,452L367.5,452L368,461L365,461Z" fill="#fff" stroke="none" stroke-width="1"/>
<path d="M739.6,400L741.4,400L741.6,411L739.4,411Z" fill="#fff" stroke="none" stroke-width="1"/>
<rect x="76.5" y="390" width="17" height="75.5" rx="4" fill="#000"/>
<rect x="78.5" y="392" width="13" height="71.5" rx="3" fill="#fff"/>
<text transform="translate(83.6,404.5) scale(0.78,1)" font-size="13" text-anchor="middle" fill="#000"><tspan x="0" dy="0">B</tspan><tspan x="0" dy="14.25">A</tspan><tspan x="0" dy="14.25">N</tspan><tspan x="0" dy="14.25">K</tspan><tspan x="0" dy="14.25">0</tspan></text>
<rect x="165.5" y="390" width="18" height="75.5" rx="4" fill="#000"/>
<rect x="167.5" y="392" width="14" height="71.5" rx="3" fill="#fff"/>
<text transform="translate(174,404.5) scale(0.78,1)" font-size="13" text-anchor="middle" fill="#000"><tspan x="0" dy="0">B</tspan><tspan x="0" dy="14.25">A</tspan><tspan x="0" dy="14.25">N</tspan><tspan x="0" dy="14.25">K</tspan><tspan x="0" dy="14.25">1</tspan></text>
<text transform="translate(615.3,52.8) scale(0.78,1)" font-size="12" letter-spacing="1.7" text-anchor="start" fill="#000">MH2207</text>
</svg>
</body>
</html>
